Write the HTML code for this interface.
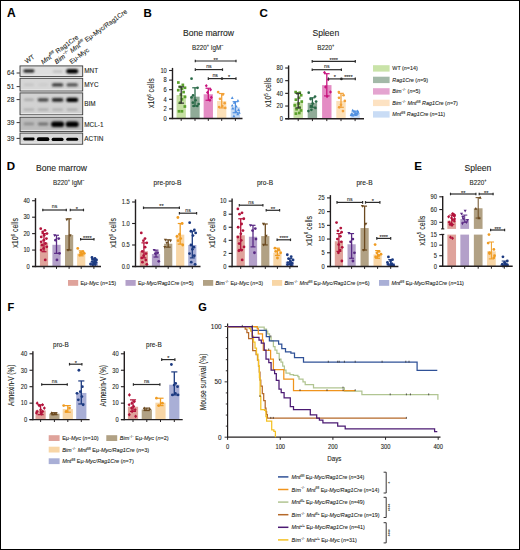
<!DOCTYPE html>
<html><head><meta charset="utf-8"><style>
html,body{margin:0;padding:0;background:#fff;}
body{width:520px;height:550px;overflow:hidden;font-family:"Liberation Sans",sans-serif;}
svg{display:block;}
text{stroke:#231f20;stroke-width:0.1px;paint-order:stroke;}
</style></head><body>
<svg width="520" height="550" viewBox="0 0 520 550" font-family="Liberation Sans, sans-serif"><rect x="0.5" y="0.5" width="519" height="549" fill="#fff" stroke="#000" stroke-width="1"/>
<text x="7.10" y="17.20" font-size="12" text-anchor="start" font-weight="bold" font-style="normal" fill="#000">A</text>
<text x="26.8" y="63.8" font-size="6.6" fill="#231f20" transform="rotate(-36 26.8 63.8)">WT</text>
<text x="43.0" y="64.4" font-size="6.6" fill="#231f20" transform="rotate(-36 43.0 64.4)"><tspan font-style="italic">Mnt<tspan baseline-shift="2.77" font-size="4.09">fl/fl</tspan></tspan> Rag1Cre</text>
<text x="56.6" y="64.2" font-size="6.6" fill="#231f20" transform="rotate(-36 56.6 64.2)"><tspan font-style="italic">Bim</tspan><tspan baseline-shift="2.77" font-size="4.09">−/−</tspan> <tspan font-style="italic">Mnt<tspan baseline-shift="2.77" font-size="4.09">fl/fl</tspan></tspan> Eμ-Myc/Rag1Cre</text>
<text x="71.4" y="64.2" font-size="6.6" fill="#231f20" transform="rotate(-36 71.4 64.2)">Eμ-Myc</text>
<defs>
<filter id="bl" x="-50%" y="-100%" width="200%" height="300%"><feGaussianBlur stdDeviation="0.85"/></filter>
<filter id="bl2" x="-50%" y="-100%" width="200%" height="300%"><feGaussianBlur stdDeviation="0.55"/></filter>
</defs>
<rect x="20.00" y="65.90" width="62.70" height="10.50" fill="#dedede" stroke="#3a3a3a" stroke-width="0.9"/>
<line x1="21.00" y1="75.20" x2="81.70" y2="75.20" stroke="#eeeeee" stroke-width="0.8"/>
<text x="84.30" y="73.45" font-size="6.4" text-anchor="start" font-weight="normal" font-style="normal" fill="#231f20">MNT</text>
<text x="14.30" y="75.30" font-size="6.5" text-anchor="end" font-weight="normal" font-style="normal" fill="#231f20">64</text>
<line x1="16.60" y1="73.00" x2="19.80" y2="73.00" stroke="#231f20" stroke-width="0.9"/>
<rect x="20.00" y="78.30" width="62.70" height="12.70" fill="#d6d6d6" stroke="#3a3a3a" stroke-width="0.9"/>
<line x1="21.00" y1="89.80" x2="81.70" y2="89.80" stroke="#eeeeee" stroke-width="0.8"/>
<text x="84.30" y="86.95" font-size="6.4" text-anchor="start" font-weight="normal" font-style="normal" fill="#231f20">MYC</text>
<text x="14.30" y="88.90" font-size="6.5" text-anchor="end" font-weight="normal" font-style="normal" fill="#231f20">51</text>
<line x1="16.60" y1="86.60" x2="19.80" y2="86.60" stroke="#231f20" stroke-width="0.9"/>
<rect x="20.00" y="92.90" width="62.70" height="21.90" fill="#d2d2d2" stroke="#3a3a3a" stroke-width="0.9"/>
<line x1="21.00" y1="113.60" x2="81.70" y2="113.60" stroke="#eeeeee" stroke-width="0.8"/>
<text x="84.30" y="106.15" font-size="6.4" text-anchor="start" font-weight="normal" font-style="normal" fill="#231f20">BIM</text>
<text x="14.30" y="101.90" font-size="6.5" text-anchor="end" font-weight="normal" font-style="normal" fill="#231f20">28</text>
<line x1="16.60" y1="99.60" x2="19.80" y2="99.60" stroke="#231f20" stroke-width="0.9"/>
<rect x="20.00" y="117.20" width="62.70" height="14.40" fill="#bdbdbd" stroke="#3a3a3a" stroke-width="0.9"/>
<line x1="21.00" y1="130.40" x2="81.70" y2="130.40" stroke="#eeeeee" stroke-width="0.8"/>
<text x="84.30" y="126.70" font-size="6.4" text-anchor="start" font-weight="normal" font-style="normal" fill="#231f20">MCL-1</text>
<text x="14.30" y="124.90" font-size="6.5" text-anchor="end" font-weight="normal" font-style="normal" fill="#231f20">39</text>
<line x1="16.60" y1="122.60" x2="19.80" y2="122.60" stroke="#231f20" stroke-width="0.9"/>
<rect x="20.00" y="133.10" width="62.70" height="11.10" fill="#d8d8d8" stroke="#3a3a3a" stroke-width="0.9"/>
<line x1="21.00" y1="143.00" x2="81.70" y2="143.00" stroke="#eeeeee" stroke-width="0.8"/>
<text x="84.30" y="140.95" font-size="6.4" text-anchor="start" font-weight="normal" font-style="normal" fill="#231f20">ACTIN</text>
<text x="14.30" y="140.70" font-size="6.5" text-anchor="end" font-weight="normal" font-style="normal" fill="#231f20">39</text>
<line x1="16.60" y1="138.40" x2="19.80" y2="138.40" stroke="#231f20" stroke-width="0.9"/>
<rect x="23.40" y="69.60" width="11.00" height="2.80" rx="1.40" fill="#000" fill-opacity="0.9" filter="url(#bl)"/>
<rect x="52.85" y="70.60" width="9.50" height="2.00" rx="1.00" fill="#9a9a9a" fill-opacity="0.55" filter="url(#bl)"/>
<rect x="66.20" y="69.00" width="12.00" height="4.60" rx="2.30" fill="#000" fill-opacity="1.0" filter="url(#bl)"/>
<rect x="23.90" y="83.50" width="10.00" height="2.60" rx="1.30" fill="#b4b4b4" fill-opacity="0.5" filter="url(#bl)"/>
<rect x="38.10" y="83.50" width="10.00" height="2.60" rx="1.30" fill="#bcbcbc" fill-opacity="0.4" filter="url(#bl)"/>
<rect x="51.85" y="83.20" width="11.50" height="3.40" rx="1.70" fill="#2a2a2a" fill-opacity="0.9" filter="url(#bl)"/>
<rect x="66.45" y="83.20" width="11.50" height="3.40" rx="1.70" fill="#3a3a3a" fill-opacity="0.85" filter="url(#bl)"/>
<rect x="23.90" y="98.50" width="10.00" height="2.40" rx="1.20" fill="#8a8a8a" fill-opacity="0.55" filter="url(#bl)"/>
<rect x="37.60" y="98.20" width="11.00" height="3.20" rx="1.60" fill="#303030" fill-opacity="0.9" filter="url(#bl)"/>
<rect x="51.85" y="98.10" width="11.50" height="3.60" rx="1.80" fill="#1a1a1a" fill-opacity="0.95" filter="url(#bl)"/>
<rect x="66.20" y="97.80" width="12.00" height="4.20" rx="2.10" fill="#000" fill-opacity="1.0" filter="url(#bl)"/>
<rect x="23.40" y="108.60" width="11.00" height="2.20" rx="1.10" fill="#8e8e8e" fill-opacity="0.5" filter="url(#bl)"/>
<rect x="37.60" y="108.60" width="11.00" height="2.20" rx="1.10" fill="#858585" fill-opacity="0.5" filter="url(#bl)"/>
<rect x="52.10" y="108.60" width="11.00" height="2.20" rx="1.10" fill="#8e8e8e" fill-opacity="0.5" filter="url(#bl)"/>
<rect x="66.70" y="108.60" width="11.00" height="2.20" rx="1.10" fill="#808080" fill-opacity="0.5" filter="url(#bl)"/>
<rect x="23.65" y="122.60" width="10.50" height="2.60" rx="1.30" fill="#707070" fill-opacity="0.6" filter="url(#bl)"/>
<rect x="37.85" y="122.60" width="10.50" height="2.80" rx="1.40" fill="#505050" fill-opacity="0.7" filter="url(#bl)"/>
<rect x="51.10" y="121.40" width="13.00" height="5.60" rx="2.80" fill="#000" fill-opacity="1.0" filter="url(#bl)"/>
<rect x="65.70" y="121.40" width="13.00" height="5.60" rx="2.80" fill="#000" fill-opacity="1.0" filter="url(#bl)"/>
<rect x="23.15" y="137.60" width="11.50" height="2.80" rx="1.40" fill="#000" fill-opacity="1.0" filter="url(#bl2)"/>
<rect x="36.85" y="137.30" width="12.50" height="3.80" rx="1.90" fill="#000" fill-opacity="1.0" filter="url(#bl2)"/>
<rect x="51.60" y="137.85" width="12.00" height="3.10" rx="1.55" fill="#000" fill-opacity="1.0" filter="url(#bl2)"/>
<rect x="66.20" y="137.65" width="12.00" height="3.10" rx="1.55" fill="#000" fill-opacity="1.0" filter="url(#bl2)"/>
<text x="143.40" y="17.20" font-size="11.5" text-anchor="start" font-weight="bold" font-style="normal" fill="#000">B</text>
<text x="208.50" y="36.40" font-size="8.6" text-anchor="middle" font-weight="normal" font-style="normal" fill="#231f20">Bone marrow</text>
<text x="0.00" y="0.00" font-size="7.4" text-anchor="middle" font-weight="normal" font-style="normal" fill="#231f20" transform="translate(207.80 50.20) scale(0.85 1)">B220<tspan baseline-shift="3.11" font-size="4.59">+</tspan> IgM<tspan baseline-shift="3.11" font-size="4.59">−</tspan></text>
<rect x="176.55" y="94.98" width="9.30" height="23.52" fill="#c6dfa4" fill-opacity="1"/>
<rect x="190.35" y="96.66" width="9.30" height="21.84" fill="#90ab98" fill-opacity="1"/>
<rect x="203.65" y="94.26" width="9.30" height="24.24" fill="#e48cc4" fill-opacity="1"/>
<rect x="217.05" y="100.98" width="9.30" height="17.52" fill="#fce0b8" fill-opacity="1"/>
<rect x="230.75" y="107.32" width="9.30" height="11.18" fill="#c6daf4" fill-opacity="1"/>
<rect x="177.00" y="81.15" width="2.70" height="2.70" fill="#5aa02c"/>
<rect x="181.48" y="83.55" width="2.70" height="2.70" fill="#5aa02c"/>
<rect x="178.56" y="85.47" width="2.70" height="2.70" fill="#5aa02c"/>
<rect x="183.64" y="86.43" width="2.70" height="2.70" fill="#5aa02c"/>
<rect x="180.65" y="87.39" width="2.70" height="2.70" fill="#5aa02c"/>
<rect x="176.91" y="88.83" width="2.70" height="2.70" fill="#5aa02c"/>
<rect x="182.23" y="90.75" width="2.70" height="2.70" fill="#5aa02c"/>
<rect x="179.53" y="93.15" width="2.70" height="2.70" fill="#5aa02c"/>
<rect x="183.69" y="95.55" width="2.70" height="2.70" fill="#5aa02c"/>
<rect x="180.59" y="97.95" width="2.70" height="2.70" fill="#5aa02c"/>
<rect x="178.82" y="101.31" width="2.70" height="2.70" fill="#5aa02c"/>
<rect x="183.52" y="105.15" width="2.70" height="2.70" fill="#5aa02c"/>
<rect x="180.59" y="109.95" width="2.70" height="2.70" fill="#5aa02c"/>
<rect x="177.67" y="109.95" width="2.70" height="2.70" fill="#5aa02c"/>
<line x1="181.20" y1="86.82" x2="181.20" y2="103.14" stroke="#333" stroke-width="1.3"/>
<line x1="178.41" y1="86.82" x2="183.99" y2="86.82" stroke="#333" stroke-width="1.2"/>
<line x1="178.41" y1="103.14" x2="183.99" y2="103.14" stroke="#333" stroke-width="1.2"/>
<circle cx="191.53" cy="78.66" r="1.35" fill="#2a6a48"/>
<circle cx="197.56" cy="87.78" r="1.35" fill="#2a6a48"/>
<circle cx="193.04" cy="95.46" r="1.35" fill="#2a6a48"/>
<circle cx="191.52" cy="97.38" r="1.35" fill="#2a6a48"/>
<circle cx="195.64" cy="100.26" r="1.35" fill="#2a6a48"/>
<circle cx="192.89" cy="102.66" r="1.35" fill="#2a6a48"/>
<circle cx="197.27" cy="106.02" r="1.35" fill="#2a6a48"/>
<circle cx="193.86" cy="106.02" r="1.35" fill="#2a6a48"/>
<circle cx="198.59" cy="104.10" r="1.35" fill="#2a6a48"/>
<line x1="195.00" y1="87.78" x2="195.00" y2="106.02" stroke="#2a6a48" stroke-width="1.3"/>
<line x1="192.21" y1="87.78" x2="197.79" y2="87.78" stroke="#2a6a48" stroke-width="1.2"/>
<line x1="192.21" y1="106.02" x2="197.79" y2="106.02" stroke="#2a6a48" stroke-width="1.2"/>
<path d="M206.31 84.11L207.79 85.86L206.31 87.61L204.82 85.86Z" fill="#c8147e"/>
<path d="M210.58 87.95L212.06 89.70L210.58 91.45L209.09 89.70Z" fill="#c8147e"/>
<path d="M207.45 90.83L208.93 92.58L207.45 94.33L205.96 92.58Z" fill="#c8147e"/>
<path d="M211.33 95.62L212.82 97.38L211.33 99.13L209.85 97.38Z" fill="#c8147e"/>
<path d="M209.94 98.51L211.43 100.26L209.94 102.02L208.46 100.26Z" fill="#c8147e"/>
<line x1="208.30" y1="88.26" x2="208.30" y2="100.26" stroke="#c8147e" stroke-width="1.3"/>
<line x1="205.51" y1="88.26" x2="211.09" y2="88.26" stroke="#c8147e" stroke-width="1.2"/>
<line x1="205.51" y1="100.26" x2="211.09" y2="100.26" stroke="#c8147e" stroke-width="1.2"/>
<circle cx="218.10" cy="92.10" r="1.35" fill="#f2a23a"/>
<circle cx="222.86" cy="94.50" r="1.35" fill="#f2a23a"/>
<circle cx="219.98" cy="98.82" r="1.35" fill="#f2a23a"/>
<circle cx="224.67" cy="103.14" r="1.35" fill="#f2a23a"/>
<circle cx="222.30" cy="106.02" r="1.35" fill="#f2a23a"/>
<circle cx="219.15" cy="106.98" r="1.35" fill="#f2a23a"/>
<circle cx="225.24" cy="107.94" r="1.35" fill="#f2a23a"/>
<line x1="221.70" y1="93.54" x2="221.70" y2="107.94" stroke="#f2a23a" stroke-width="1.3"/>
<line x1="218.91" y1="93.54" x2="224.49" y2="93.54" stroke="#f2a23a" stroke-width="1.2"/>
<line x1="218.91" y1="107.94" x2="224.49" y2="107.94" stroke="#f2a23a" stroke-width="1.2"/>
<path d="M232.23 96.24L233.72 98.94L230.75 98.94Z" fill="#4f8fe0"/>
<path d="M237.91 99.12L239.40 101.82L236.43 101.82Z" fill="#4f8fe0"/>
<path d="M234.35 101.04L235.83 103.74L232.86 103.74Z" fill="#4f8fe0"/>
<path d="M232.25 103.92L233.73 106.62L230.76 106.62Z" fill="#4f8fe0"/>
<path d="M236.30 104.88L237.79 107.58L234.82 107.58Z" fill="#4f8fe0"/>
<path d="M232.88 106.80L234.36 109.50L231.39 109.50Z" fill="#4f8fe0"/>
<path d="M238.60 108.24L240.08 110.94L237.11 110.94Z" fill="#4f8fe0"/>
<path d="M235.92 109.68L237.41 112.38L234.44 112.38Z" fill="#4f8fe0"/>
<path d="M239.25 111.12L240.74 113.82L237.77 113.82Z" fill="#4f8fe0"/>
<path d="M237.74 112.56L239.23 115.26L236.26 115.26Z" fill="#4f8fe0"/>
<path d="M233.90 114.48L235.39 117.18L232.42 117.18Z" fill="#4f8fe0"/>
<line x1="235.40" y1="101.70" x2="235.40" y2="112.74" stroke="#4f8fe0" stroke-width="1.3"/>
<line x1="232.61" y1="101.70" x2="238.19" y2="101.70" stroke="#4f8fe0" stroke-width="1.2"/>
<line x1="232.61" y1="112.74" x2="238.19" y2="112.74" stroke="#4f8fe0" stroke-width="1.2"/>
<line x1="172.50" y1="67.90" x2="172.50" y2="119.20" stroke="#231f20" stroke-width="1.4"/>
<line x1="169.10" y1="118.50" x2="242.50" y2="118.50" stroke="#231f20" stroke-width="1.4"/>
<line x1="169.10" y1="118.50" x2="172.50" y2="118.50" stroke="#231f20" stroke-width="1.1"/>
<text x="0.00" y="0.00" font-size="6.4" text-anchor="end" font-weight="normal" font-style="normal" fill="#231f20" transform="translate(166.80 120.80) scale(0.9 1)">0</text>
<line x1="169.10" y1="108.90" x2="172.50" y2="108.90" stroke="#231f20" stroke-width="1.1"/>
<text x="0.00" y="0.00" font-size="6.4" text-anchor="end" font-weight="normal" font-style="normal" fill="#231f20" transform="translate(166.80 111.20) scale(0.9 1)">2</text>
<line x1="169.10" y1="99.30" x2="172.50" y2="99.30" stroke="#231f20" stroke-width="1.1"/>
<text x="0.00" y="0.00" font-size="6.4" text-anchor="end" font-weight="normal" font-style="normal" fill="#231f20" transform="translate(166.80 101.60) scale(0.9 1)">4</text>
<line x1="169.10" y1="89.70" x2="172.50" y2="89.70" stroke="#231f20" stroke-width="1.1"/>
<text x="0.00" y="0.00" font-size="6.4" text-anchor="end" font-weight="normal" font-style="normal" fill="#231f20" transform="translate(166.80 92.00) scale(0.9 1)">6</text>
<line x1="169.10" y1="80.10" x2="172.50" y2="80.10" stroke="#231f20" stroke-width="1.1"/>
<text x="0.00" y="0.00" font-size="6.4" text-anchor="end" font-weight="normal" font-style="normal" fill="#231f20" transform="translate(166.80 82.40) scale(0.9 1)">8</text>
<line x1="169.10" y1="70.50" x2="172.50" y2="70.50" stroke="#231f20" stroke-width="1.1"/>
<text x="0.00" y="0.00" font-size="6.4" text-anchor="end" font-weight="normal" font-style="normal" fill="#231f20" transform="translate(166.80 72.80) scale(0.9 1)">10</text>
<line x1="181.20" y1="118.50" x2="181.20" y2="120.90" stroke="#231f20" stroke-width="1.0"/>
<line x1="195.00" y1="118.50" x2="195.00" y2="120.90" stroke="#231f20" stroke-width="1.0"/>
<line x1="208.30" y1="118.50" x2="208.30" y2="120.90" stroke="#231f20" stroke-width="1.0"/>
<line x1="221.70" y1="118.50" x2="221.70" y2="120.90" stroke="#231f20" stroke-width="1.0"/>
<line x1="235.40" y1="118.50" x2="235.40" y2="120.90" stroke="#231f20" stroke-width="1.0"/>
<text transform="translate(154.10 93.20) rotate(-90) scale(0.78 1)" font-size="9.0" text-anchor="middle" fill="#231f20">x10<tspan baseline-shift="3.78" font-size="5.58">6</tspan> cells</text>
<line x1="195.30" y1="61.00" x2="236.00" y2="61.00" stroke="#2b2b2b" stroke-width="1.2"/>
<line x1="195.30" y1="59.70" x2="195.30" y2="62.30" stroke="#2b2b2b" stroke-width="1.2"/>
<line x1="236.00" y1="59.70" x2="236.00" y2="62.30" stroke="#2b2b2b" stroke-width="1.2"/>
<text x="215.65" y="61.50" font-size="5.4" text-anchor="middle" font-weight="normal" font-style="normal" fill="#2b2b2b">**</text>
<line x1="195.30" y1="69.60" x2="222.50" y2="69.60" stroke="#2b2b2b" stroke-width="1.2"/>
<line x1="195.30" y1="68.30" x2="195.30" y2="70.90" stroke="#2b2b2b" stroke-width="1.2"/>
<line x1="222.50" y1="68.30" x2="222.50" y2="70.90" stroke="#2b2b2b" stroke-width="1.2"/>
<text x="208.90" y="67.90" font-size="5.2" text-anchor="middle" font-weight="normal" font-style="normal" fill="#2b2b2b">ns</text>
<line x1="208.30" y1="78.60" x2="236.00" y2="78.60" stroke="#2b2b2b" stroke-width="1.2"/>
<line x1="208.30" y1="77.30" x2="208.30" y2="79.90" stroke="#2b2b2b" stroke-width="1.2"/>
<line x1="236.00" y1="77.30" x2="236.00" y2="79.90" stroke="#2b2b2b" stroke-width="1.2"/>
<circle cx="222.00" cy="78.60" r="1.3" fill="#2b2b2b"/>
<text x="215.15" y="76.90" font-size="5.2" text-anchor="middle" font-weight="normal" font-style="normal" fill="#2b2b2b">ns</text>
<text x="229.00" y="79.10" font-size="5.4" text-anchor="middle" font-weight="normal" font-style="normal" fill="#2b2b2b">*</text>
<text x="259.60" y="17.20" font-size="11.5" text-anchor="start" font-weight="bold" font-style="normal" fill="#000">C</text>
<text x="325.80" y="36.40" font-size="8.6" text-anchor="middle" font-weight="normal" font-style="normal" fill="#231f20">Spleen</text>
<text x="0.00" y="0.00" font-size="7.4" text-anchor="middle" font-weight="normal" font-style="normal" fill="#231f20" transform="translate(325.80 50.00) scale(0.85 1)">B220<tspan baseline-shift="3.11" font-size="4.59">+</tspan></text>
<rect x="293.50" y="102.54" width="9.40" height="16.16" fill="#c6dfa4" fill-opacity="1"/>
<rect x="307.70" y="102.86" width="9.40" height="15.84" fill="#90ab98" fill-opacity="1"/>
<rect x="322.10" y="85.11" width="9.40" height="33.59" fill="#e48cc4" fill-opacity="1"/>
<rect x="336.30" y="100.95" width="9.40" height="17.75" fill="#fce0b8" fill-opacity="1"/>
<rect x="350.40" y="113.00" width="9.40" height="5.70" fill="#c6daf4" fill-opacity="1"/>
<rect x="294.31" y="90.73" width="2.70" height="2.70" fill="#5aa02c"/>
<rect x="298.42" y="91.37" width="2.70" height="2.70" fill="#5aa02c"/>
<rect x="296.19" y="92.00" width="2.70" height="2.70" fill="#5aa02c"/>
<rect x="299.85" y="93.90" width="2.70" height="2.70" fill="#5aa02c"/>
<rect x="297.71" y="96.44" width="2.70" height="2.70" fill="#5aa02c"/>
<rect x="294.53" y="98.34" width="2.70" height="2.70" fill="#5aa02c"/>
<rect x="300.39" y="100.24" width="2.70" height="2.70" fill="#5aa02c"/>
<rect x="297.33" y="102.14" width="2.70" height="2.70" fill="#5aa02c"/>
<rect x="293.45" y="104.04" width="2.70" height="2.70" fill="#5aa02c"/>
<rect x="298.04" y="105.94" width="2.70" height="2.70" fill="#5aa02c"/>
<rect x="295.22" y="107.84" width="2.70" height="2.70" fill="#5aa02c"/>
<rect x="299.65" y="109.11" width="2.70" height="2.70" fill="#5aa02c"/>
<rect x="297.94" y="111.65" width="2.70" height="2.70" fill="#5aa02c"/>
<rect x="294.58" y="112.28" width="2.70" height="2.70" fill="#5aa02c"/>
<line x1="298.20" y1="93.35" x2="298.20" y2="107.93" stroke="#333" stroke-width="1.3"/>
<line x1="295.38" y1="93.35" x2="301.02" y2="93.35" stroke="#333" stroke-width="1.2"/>
<line x1="295.38" y1="107.93" x2="301.02" y2="107.93" stroke="#333" stroke-width="1.2"/>
<circle cx="308.74" cy="92.72" r="1.35" fill="#2a6a48"/>
<circle cx="315.06" cy="96.52" r="1.35" fill="#2a6a48"/>
<circle cx="310.57" cy="99.05" r="1.35" fill="#2a6a48"/>
<circle cx="316.12" cy="101.59" r="1.35" fill="#2a6a48"/>
<circle cx="312.77" cy="103.49" r="1.35" fill="#2a6a48"/>
<circle cx="310.87" cy="106.03" r="1.35" fill="#2a6a48"/>
<circle cx="315.37" cy="107.93" r="1.35" fill="#2a6a48"/>
<circle cx="311.38" cy="109.83" r="1.35" fill="#2a6a48"/>
<circle cx="308.43" cy="111.09" r="1.35" fill="#2a6a48"/>
<line x1="312.40" y1="97.79" x2="312.40" y2="107.29" stroke="#2a6a48" stroke-width="1.3"/>
<line x1="309.58" y1="97.79" x2="315.22" y2="97.79" stroke="#2a6a48" stroke-width="1.2"/>
<line x1="309.58" y1="107.29" x2="315.22" y2="107.29" stroke="#2a6a48" stroke-width="1.2"/>
<path d="M324.51 70.68L325.99 72.44L324.51 74.19L323.02 72.44Z" fill="#c8147e"/>
<path d="M328.25 77.65L329.73 79.41L328.25 81.16L326.76 79.41Z" fill="#c8147e"/>
<path d="M325.49 85.26L326.98 87.01L325.49 88.77L324.01 87.01Z" fill="#c8147e"/>
<path d="M330.48 90.33L331.97 92.08L330.48 93.84L329.00 92.08Z" fill="#c8147e"/>
<path d="M327.04 94.76L328.52 96.52L327.04 98.27L325.55 96.52Z" fill="#c8147e"/>
<line x1="326.80" y1="73.70" x2="326.80" y2="95.89" stroke="#c8147e" stroke-width="1.3"/>
<line x1="323.98" y1="73.70" x2="329.62" y2="73.70" stroke="#c8147e" stroke-width="1.2"/>
<line x1="323.98" y1="95.89" x2="329.62" y2="95.89" stroke="#c8147e" stroke-width="1.2"/>
<circle cx="338.83" cy="92.08" r="1.35" fill="#f2a23a"/>
<circle cx="343.53" cy="95.25" r="1.35" fill="#f2a23a"/>
<circle cx="339.00" cy="97.79" r="1.35" fill="#f2a23a"/>
<circle cx="344.81" cy="100.95" r="1.35" fill="#f2a23a"/>
<circle cx="340.98" cy="104.76" r="1.35" fill="#f2a23a"/>
<circle cx="339.22" cy="107.29" r="1.35" fill="#f2a23a"/>
<circle cx="342.95" cy="111.09" r="1.35" fill="#f2a23a"/>
<line x1="341.00" y1="93.35" x2="341.00" y2="107.29" stroke="#f2a23a" stroke-width="1.3"/>
<line x1="338.18" y1="93.35" x2="343.82" y2="93.35" stroke="#f2a23a" stroke-width="1.2"/>
<line x1="338.18" y1="107.29" x2="343.82" y2="107.29" stroke="#f2a23a" stroke-width="1.2"/>
<path d="M352.70 108.84L354.19 111.54L351.22 111.54Z" fill="#4f8fe0"/>
<path d="M357.67 109.47L359.15 112.17L356.18 112.17Z" fill="#4f8fe0"/>
<path d="M354.04 110.11L355.53 112.81L352.56 112.81Z" fill="#4f8fe0"/>
<path d="M358.09 110.74L359.57 113.44L356.60 113.44Z" fill="#4f8fe0"/>
<path d="M356.13 111.38L357.61 114.08L354.64 114.08Z" fill="#4f8fe0"/>
<path d="M351.95 112.01L353.43 114.71L350.46 114.71Z" fill="#4f8fe0"/>
<path d="M357.29 112.01L358.77 114.71L355.80 114.71Z" fill="#4f8fe0"/>
<path d="M354.98 112.64L356.46 115.34L353.49 115.34Z" fill="#4f8fe0"/>
<path d="M351.18 113.28L352.66 115.98L349.69 115.98Z" fill="#4f8fe0"/>
<path d="M355.68 113.28L357.16 115.98L354.19 115.98Z" fill="#4f8fe0"/>
<path d="M352.85 113.91L354.34 116.61L351.37 116.61Z" fill="#4f8fe0"/>
<line x1="355.10" y1="111.09" x2="355.10" y2="114.90" stroke="#4f8fe0" stroke-width="1.3"/>
<line x1="352.28" y1="111.09" x2="357.92" y2="111.09" stroke="#4f8fe0" stroke-width="1.2"/>
<line x1="352.28" y1="114.90" x2="357.92" y2="114.90" stroke="#4f8fe0" stroke-width="1.2"/>
<line x1="288.60" y1="65.40" x2="288.60" y2="119.40" stroke="#231f20" stroke-width="1.4"/>
<line x1="285.20" y1="118.70" x2="364.00" y2="118.70" stroke="#231f20" stroke-width="1.4"/>
<line x1="285.20" y1="118.70" x2="288.60" y2="118.70" stroke="#231f20" stroke-width="1.1"/>
<text x="0.00" y="0.00" font-size="6.4" text-anchor="end" font-weight="normal" font-style="normal" fill="#231f20" transform="translate(282.90 121.00) scale(0.9 1)">0</text>
<line x1="285.20" y1="106.03" x2="288.60" y2="106.03" stroke="#231f20" stroke-width="1.1"/>
<text x="0.00" y="0.00" font-size="6.4" text-anchor="end" font-weight="normal" font-style="normal" fill="#231f20" transform="translate(282.90 108.33) scale(0.9 1)">20</text>
<line x1="285.20" y1="93.35" x2="288.60" y2="93.35" stroke="#231f20" stroke-width="1.1"/>
<text x="0.00" y="0.00" font-size="6.4" text-anchor="end" font-weight="normal" font-style="normal" fill="#231f20" transform="translate(282.90 95.65) scale(0.9 1)">40</text>
<line x1="285.20" y1="80.67" x2="288.60" y2="80.67" stroke="#231f20" stroke-width="1.1"/>
<text x="0.00" y="0.00" font-size="6.4" text-anchor="end" font-weight="normal" font-style="normal" fill="#231f20" transform="translate(282.90 82.98) scale(0.9 1)">60</text>
<line x1="285.20" y1="68.00" x2="288.60" y2="68.00" stroke="#231f20" stroke-width="1.1"/>
<text x="0.00" y="0.00" font-size="6.4" text-anchor="end" font-weight="normal" font-style="normal" fill="#231f20" transform="translate(282.90 70.30) scale(0.9 1)">80</text>
<line x1="298.20" y1="118.70" x2="298.20" y2="121.10" stroke="#231f20" stroke-width="1.0"/>
<line x1="312.40" y1="118.70" x2="312.40" y2="121.10" stroke="#231f20" stroke-width="1.0"/>
<line x1="326.80" y1="118.70" x2="326.80" y2="121.10" stroke="#231f20" stroke-width="1.0"/>
<line x1="341.00" y1="118.70" x2="341.00" y2="121.10" stroke="#231f20" stroke-width="1.0"/>
<line x1="355.10" y1="118.70" x2="355.10" y2="121.10" stroke="#231f20" stroke-width="1.0"/>
<text transform="translate(271.20 92.30) rotate(-90) scale(0.78 1)" font-size="9.0" text-anchor="middle" fill="#231f20">x10<tspan baseline-shift="3.78" font-size="5.58">5</tspan> cells</text>
<line x1="312.20" y1="61.40" x2="355.30" y2="61.40" stroke="#2b2b2b" stroke-width="1.2"/>
<line x1="312.20" y1="60.10" x2="312.20" y2="62.70" stroke="#2b2b2b" stroke-width="1.2"/>
<line x1="355.30" y1="60.10" x2="355.30" y2="62.70" stroke="#2b2b2b" stroke-width="1.2"/>
<text x="333.75" y="61.90" font-size="5.4" text-anchor="middle" font-weight="normal" font-style="normal" fill="#2b2b2b">****</text>
<line x1="312.20" y1="69.70" x2="341.40" y2="69.70" stroke="#2b2b2b" stroke-width="1.2"/>
<line x1="312.20" y1="68.40" x2="312.20" y2="71.00" stroke="#2b2b2b" stroke-width="1.2"/>
<line x1="341.40" y1="68.40" x2="341.40" y2="71.00" stroke="#2b2b2b" stroke-width="1.2"/>
<text x="326.80" y="68.00" font-size="5.2" text-anchor="middle" font-weight="normal" font-style="normal" fill="#2b2b2b">ns</text>
<line x1="328.40" y1="78.90" x2="355.30" y2="78.90" stroke="#2b2b2b" stroke-width="1.2"/>
<line x1="328.40" y1="77.60" x2="328.40" y2="80.20" stroke="#2b2b2b" stroke-width="1.2"/>
<line x1="355.30" y1="77.60" x2="355.30" y2="80.20" stroke="#2b2b2b" stroke-width="1.2"/>
<circle cx="341.40" cy="78.90" r="1.3" fill="#2b2b2b"/>
<text x="334.90" y="79.40" font-size="5.4" text-anchor="middle" font-weight="normal" font-style="normal" fill="#2b2b2b">*</text>
<text x="348.35" y="79.40" font-size="5.4" text-anchor="middle" font-weight="normal" font-style="normal" fill="#2b2b2b">****</text>
<rect x="373.00" y="65.20" width="16.60" height="6.40" fill="#c9e3a8"/>
<text x="0.00" y="0.00" font-size="6.0" text-anchor="start" font-weight="normal" font-style="normal" fill="#231f20" transform="translate(392.30 70.40) scale(0.9 1)">WT (<tspan font-style="italic">n</tspan>=14)</text>
<rect x="373.00" y="76.70" width="16.60" height="6.40" fill="#a3b9a8"/>
<text x="0.00" y="0.00" font-size="6.0" text-anchor="start" font-weight="normal" font-style="normal" fill="#231f20" transform="translate(392.30 81.90) scale(0.9 1)"><tspan font-style="italic">Rag1Cre</tspan> (<tspan font-style="italic">n</tspan>=9)</text>
<rect x="373.00" y="88.20" width="16.60" height="6.40" fill="#e4a4d0"/>
<text x="0.00" y="0.00" font-size="6.0" text-anchor="start" font-weight="normal" font-style="normal" fill="#231f20" transform="translate(392.30 93.40) scale(0.9 1)"><tspan font-style="italic">Bim</tspan><tspan baseline-shift="2.35" font-size="3.47">−/−</tspan> (<tspan font-style="italic">n</tspan>=5)</text>
<rect x="373.00" y="99.70" width="16.60" height="6.40" fill="#fde2c2"/>
<text x="0.00" y="0.00" font-size="6.0" text-anchor="start" font-weight="normal" font-style="normal" fill="#231f20" transform="translate(392.30 104.90) scale(0.9 1)"><tspan font-style="italic">Bim</tspan><tspan baseline-shift="2.35" font-size="3.47">−/−</tspan> <tspan font-style="italic">Mnt</tspan><tspan baseline-shift="2.35" font-size="3.47">fl/fl</tspan> <tspan font-style="italic">Rag1Cre</tspan> (<tspan font-style="italic">n</tspan>=7)</text>
<rect x="373.00" y="111.20" width="16.60" height="6.40" fill="#c9dcf5"/>
<text x="0.00" y="0.00" font-size="6.0" text-anchor="start" font-weight="normal" font-style="normal" fill="#231f20" transform="translate(392.30 116.40) scale(0.9 1)"><tspan font-style="italic">Mnt</tspan><tspan baseline-shift="2.35" font-size="3.47">fl/fl</tspan> <tspan font-style="italic">Rag1Cre</tspan> (<tspan font-style="italic">n</tspan>=11)</text>
<text x="6.80" y="170.30" font-size="11.5" text-anchor="start" font-weight="bold" font-style="normal" fill="#000">D</text>
<text x="61.50" y="170.80" font-size="8.6" text-anchor="middle" font-weight="normal" font-style="normal" fill="#231f20">Bone marrow</text>
<text x="0.00" y="0.00" font-size="7.4" text-anchor="middle" font-weight="normal" font-style="normal" fill="#231f20" transform="translate(68.70 184.80) scale(0.85 1)">B220<tspan baseline-shift="3.11" font-size="4.59">+</tspan> IgM<tspan baseline-shift="3.11" font-size="4.59">−</tspan></text>
<rect x="39.90" y="242.67" width="8.20" height="23.83" fill="#dfa39b" fill-opacity="1"/>
<rect x="52.40" y="244.80" width="8.20" height="21.70" fill="#b3a0c9" fill-opacity="1"/>
<rect x="65.00" y="234.94" width="8.20" height="31.56" fill="#b1a184" fill-opacity="1"/>
<rect x="77.10" y="253.68" width="8.20" height="12.82" fill="#f8d6a6" fill-opacity="1"/>
<rect x="89.80" y="261.73" width="8.20" height="4.77" fill="#a9afd6" fill-opacity="1"/>
<circle cx="40.73" cy="228.69" r="1.4" fill="#b3143c"/>
<circle cx="44.97" cy="230.34" r="1.4" fill="#b3143c"/>
<circle cx="42.69" cy="231.98" r="1.4" fill="#b3143c"/>
<circle cx="46.98" cy="233.62" r="1.4" fill="#b3143c"/>
<circle cx="44.17" cy="235.27" r="1.4" fill="#b3143c"/>
<circle cx="41.25" cy="236.91" r="1.4" fill="#b3143c"/>
<circle cx="46.41" cy="238.56" r="1.4" fill="#b3143c"/>
<circle cx="43.78" cy="240.20" r="1.4" fill="#b3143c"/>
<circle cx="41.18" cy="241.84" r="1.4" fill="#b3143c"/>
<circle cx="45.55" cy="243.49" r="1.4" fill="#b3143c"/>
<circle cx="42.18" cy="245.13" r="1.4" fill="#b3143c"/>
<circle cx="46.77" cy="246.78" r="1.4" fill="#b3143c"/>
<circle cx="43.56" cy="248.42" r="1.4" fill="#b3143c"/>
<circle cx="41.18" cy="250.06" r="1.4" fill="#b3143c"/>
<circle cx="45.24" cy="259.93" r="1.4" fill="#b3143c"/>
<line x1="44.00" y1="233.62" x2="44.00" y2="251.71" stroke="#b3143c" stroke-width="1.3"/>
<line x1="41.54" y1="233.62" x2="46.46" y2="233.62" stroke="#b3143c" stroke-width="1.2"/>
<line x1="41.54" y1="251.71" x2="46.46" y2="251.71" stroke="#b3143c" stroke-width="1.2"/>
<path d="M54.65 236.95L56.19 234.15L53.11 234.15Z" fill="#5a2a84"/>
<circle cx="58.72" cy="238.56" r="1.4" fill="#5a2a84"/>
<circle cx="55.48" cy="240.20" r="1.4" fill="#5a2a84"/>
<circle cx="59.53" cy="253.35" r="1.4" fill="#5a2a84"/>
<circle cx="56.96" cy="259.93" r="1.4" fill="#5a2a84"/>
<line x1="56.50" y1="235.27" x2="56.50" y2="253.35" stroke="#5a2a84" stroke-width="1.3"/>
<line x1="54.04" y1="235.27" x2="58.96" y2="235.27" stroke="#5a2a84" stroke-width="1.2"/>
<line x1="54.04" y1="253.35" x2="58.96" y2="253.35" stroke="#5a2a84" stroke-width="1.2"/>
<path d="M66.82 221.33L68.36 218.53L65.28 218.53Z" fill="#6b4a20"/>
<path d="M70.15 236.95L71.69 234.15L68.61 234.15Z" fill="#6b4a20"/>
<path d="M68.03 251.74L69.57 248.94L66.49 248.94Z" fill="#6b4a20"/>
<line x1="69.10" y1="218.83" x2="69.10" y2="250.06" stroke="#6b4a20" stroke-width="1.3"/>
<line x1="66.64" y1="218.83" x2="71.56" y2="218.83" stroke="#6b4a20" stroke-width="1.2"/>
<line x1="66.64" y1="250.06" x2="71.56" y2="250.06" stroke="#6b4a20" stroke-width="1.2"/>
<circle cx="77.77" cy="248.42" r="1.4" fill="#f09c22"/>
<circle cx="83.09" cy="251.71" r="1.4" fill="#f09c22"/>
<circle cx="80.61" cy="252.53" r="1.4" fill="#f09c22"/>
<circle cx="84.28" cy="253.35" r="1.4" fill="#f09c22"/>
<circle cx="82.13" cy="254.17" r="1.4" fill="#f09c22"/>
<circle cx="79.77" cy="254.99" r="1.4" fill="#f09c22"/>
<line x1="81.20" y1="250.88" x2="81.20" y2="255.82" stroke="#f09c22" stroke-width="1.3"/>
<line x1="78.74" y1="250.88" x2="83.66" y2="250.88" stroke="#f09c22" stroke-width="1.2"/>
<line x1="78.74" y1="255.82" x2="83.66" y2="255.82" stroke="#f09c22" stroke-width="1.2"/>
<circle cx="92.01" cy="257.46" r="1.4" fill="#1c3a80"/>
<circle cx="94.97" cy="258.28" r="1.4" fill="#1c3a80"/>
<circle cx="92.47" cy="259.10" r="1.4" fill="#1c3a80"/>
<circle cx="96.54" cy="259.93" r="1.4" fill="#1c3a80"/>
<circle cx="94.86" cy="260.75" r="1.4" fill="#1c3a80"/>
<circle cx="92.24" cy="261.57" r="1.4" fill="#1c3a80"/>
<circle cx="95.94" cy="262.39" r="1.4" fill="#1c3a80"/>
<circle cx="94.02" cy="263.21" r="1.4" fill="#1c3a80"/>
<circle cx="90.51" cy="264.03" r="1.4" fill="#1c3a80"/>
<circle cx="95.21" cy="264.53" r="1.4" fill="#1c3a80"/>
<circle cx="92.77" cy="264.86" r="1.4" fill="#1c3a80"/>
<line x1="93.90" y1="259.10" x2="93.90" y2="264.03" stroke="#1c3a80" stroke-width="1.3"/>
<line x1="91.44" y1="259.10" x2="96.36" y2="259.10" stroke="#1c3a80" stroke-width="1.2"/>
<line x1="91.44" y1="264.03" x2="96.36" y2="264.03" stroke="#1c3a80" stroke-width="1.2"/>
<line x1="35.50" y1="198.15" x2="35.50" y2="267.20" stroke="#231f20" stroke-width="1.4"/>
<line x1="32.10" y1="266.50" x2="101.00" y2="266.50" stroke="#231f20" stroke-width="1.4"/>
<line x1="32.10" y1="266.50" x2="35.50" y2="266.50" stroke="#231f20" stroke-width="1.1"/>
<text x="0.00" y="0.00" font-size="6.4" text-anchor="end" font-weight="normal" font-style="normal" fill="#231f20" transform="translate(29.80 268.80) scale(0.9 1)">0</text>
<line x1="32.10" y1="250.06" x2="35.50" y2="250.06" stroke="#231f20" stroke-width="1.1"/>
<text x="0.00" y="0.00" font-size="6.4" text-anchor="end" font-weight="normal" font-style="normal" fill="#231f20" transform="translate(29.80 252.37) scale(0.9 1)">10</text>
<line x1="32.10" y1="233.62" x2="35.50" y2="233.62" stroke="#231f20" stroke-width="1.1"/>
<text x="0.00" y="0.00" font-size="6.4" text-anchor="end" font-weight="normal" font-style="normal" fill="#231f20" transform="translate(29.80 235.93) scale(0.9 1)">20</text>
<line x1="32.10" y1="217.19" x2="35.50" y2="217.19" stroke="#231f20" stroke-width="1.1"/>
<text x="0.00" y="0.00" font-size="6.4" text-anchor="end" font-weight="normal" font-style="normal" fill="#231f20" transform="translate(29.80 219.49) scale(0.9 1)">30</text>
<line x1="32.10" y1="200.75" x2="35.50" y2="200.75" stroke="#231f20" stroke-width="1.1"/>
<text x="0.00" y="0.00" font-size="6.4" text-anchor="end" font-weight="normal" font-style="normal" fill="#231f20" transform="translate(29.80 203.05) scale(0.9 1)">40</text>
<line x1="44.00" y1="266.50" x2="44.00" y2="268.90" stroke="#231f20" stroke-width="1.0"/>
<line x1="56.50" y1="266.50" x2="56.50" y2="268.90" stroke="#231f20" stroke-width="1.0"/>
<line x1="69.10" y1="266.50" x2="69.10" y2="268.90" stroke="#231f20" stroke-width="1.0"/>
<line x1="81.20" y1="266.50" x2="81.20" y2="268.90" stroke="#231f20" stroke-width="1.0"/>
<line x1="93.90" y1="266.50" x2="93.90" y2="268.90" stroke="#231f20" stroke-width="1.0"/>
<text transform="translate(18.40 232.90) rotate(-90) scale(0.78 1)" font-size="9.0" text-anchor="middle" fill="#231f20">x10<tspan baseline-shift="3.78" font-size="5.58">6</tspan> cells</text>
<line x1="42.80" y1="210.00" x2="66.30" y2="210.00" stroke="#2b2b2b" stroke-width="1.2"/>
<line x1="42.80" y1="208.70" x2="42.80" y2="211.30" stroke="#2b2b2b" stroke-width="1.2"/>
<line x1="66.30" y1="208.70" x2="66.30" y2="211.30" stroke="#2b2b2b" stroke-width="1.2"/>
<text x="54.55" y="208.30" font-size="5.2" text-anchor="middle" font-weight="normal" font-style="normal" fill="#2b2b2b">ns</text>
<line x1="70.30" y1="210.00" x2="83.50" y2="210.00" stroke="#2b2b2b" stroke-width="1.2"/>
<line x1="70.30" y1="208.70" x2="70.30" y2="211.30" stroke="#2b2b2b" stroke-width="1.2"/>
<line x1="83.50" y1="208.70" x2="83.50" y2="211.30" stroke="#2b2b2b" stroke-width="1.2"/>
<text x="76.90" y="210.50" font-size="5.4" text-anchor="middle" font-weight="normal" font-style="normal" fill="#2b2b2b">*</text>
<line x1="80.60" y1="239.30" x2="94.00" y2="239.30" stroke="#2b2b2b" stroke-width="1.2"/>
<line x1="80.60" y1="238.00" x2="80.60" y2="240.60" stroke="#2b2b2b" stroke-width="1.2"/>
<line x1="94.00" y1="238.00" x2="94.00" y2="240.60" stroke="#2b2b2b" stroke-width="1.2"/>
<text x="87.30" y="239.80" font-size="5.4" text-anchor="middle" font-weight="normal" font-style="normal" fill="#2b2b2b">****</text>
<text x="167.50" y="184.80" font-size="6.6" text-anchor="middle" font-weight="normal" font-style="normal" fill="#231f20">pre-pro-B</text>
<rect x="139.80" y="251.32" width="8.20" height="15.18" fill="#dfa39b" fill-opacity="1"/>
<rect x="151.90" y="254.03" width="8.20" height="12.47" fill="#b3a0c9" fill-opacity="1"/>
<rect x="164.10" y="243.71" width="8.20" height="22.79" fill="#b1a184" fill-opacity="1"/>
<rect x="176.10" y="234.68" width="8.20" height="31.82" fill="#f8d6a6" fill-opacity="1"/>
<rect x="188.20" y="245.00" width="8.20" height="21.50" fill="#a9afd6" fill-opacity="1"/>
<circle cx="141.29" cy="232.96" r="1.4" fill="#b3143c"/>
<circle cx="144.99" cy="238.55" r="1.4" fill="#b3143c"/>
<circle cx="143.43" cy="240.70" r="1.4" fill="#b3143c"/>
<circle cx="146.78" cy="242.85" r="1.4" fill="#b3143c"/>
<circle cx="145.10" cy="247.15" r="1.4" fill="#b3143c"/>
<circle cx="142.28" cy="251.45" r="1.4" fill="#b3143c"/>
<circle cx="145.95" cy="253.60" r="1.4" fill="#b3143c"/>
<circle cx="143.61" cy="255.75" r="1.4" fill="#b3143c"/>
<circle cx="141.74" cy="257.90" r="1.4" fill="#b3143c"/>
<circle cx="145.82" cy="260.05" r="1.4" fill="#b3143c"/>
<circle cx="142.44" cy="262.20" r="1.4" fill="#b3143c"/>
<circle cx="146.84" cy="264.35" r="1.4" fill="#b3143c"/>
<line x1="143.90" y1="242.85" x2="143.90" y2="257.90" stroke="#b3143c" stroke-width="1.3"/>
<line x1="141.44" y1="242.85" x2="146.36" y2="242.85" stroke="#b3143c" stroke-width="1.2"/>
<line x1="141.44" y1="257.90" x2="146.36" y2="257.90" stroke="#b3143c" stroke-width="1.2"/>
<path d="M154.15 251.84L155.69 249.04L152.61 249.04Z" fill="#5a2a84"/>
<circle cx="157.62" cy="252.74" r="1.4" fill="#5a2a84"/>
<circle cx="155.34" cy="253.60" r="1.4" fill="#5a2a84"/>
<circle cx="158.73" cy="261.34" r="1.4" fill="#5a2a84"/>
<line x1="156.00" y1="250.16" x2="156.00" y2="257.04" stroke="#5a2a84" stroke-width="1.3"/>
<line x1="153.54" y1="250.16" x2="158.46" y2="250.16" stroke="#5a2a84" stroke-width="1.2"/>
<line x1="153.54" y1="257.04" x2="158.46" y2="257.04" stroke="#5a2a84" stroke-width="1.2"/>
<path d="M165.34 241.52L166.88 238.72L163.80 238.72Z" fill="#6b4a20"/>
<path d="M170.57 242.38L172.11 239.58L169.03 239.58Z" fill="#6b4a20"/>
<path d="M166.85 244.53L168.39 241.73L165.31 241.73Z" fill="#6b4a20"/>
<path d="M164.80 248.83L166.34 246.03L163.26 246.03Z" fill="#6b4a20"/>
<line x1="168.20" y1="239.84" x2="168.20" y2="247.15" stroke="#6b4a20" stroke-width="1.3"/>
<line x1="165.74" y1="239.84" x2="170.66" y2="239.84" stroke="#6b4a20" stroke-width="1.2"/>
<line x1="165.74" y1="247.15" x2="170.66" y2="247.15" stroke="#6b4a20" stroke-width="1.2"/>
<circle cx="177.88" cy="217.48" r="1.4" fill="#f09c22"/>
<circle cx="182.16" cy="223.50" r="1.4" fill="#f09c22"/>
<circle cx="179.53" cy="234.25" r="1.4" fill="#f09c22"/>
<circle cx="176.93" cy="236.40" r="1.4" fill="#f09c22"/>
<circle cx="180.69" cy="238.55" r="1.4" fill="#f09c22"/>
<circle cx="178.11" cy="240.70" r="1.4" fill="#f09c22"/>
<circle cx="182.74" cy="245.00" r="1.4" fill="#f09c22"/>
<line x1="180.20" y1="223.50" x2="180.20" y2="244.14" stroke="#f09c22" stroke-width="1.3"/>
<line x1="177.74" y1="223.50" x2="182.66" y2="223.50" stroke="#f09c22" stroke-width="1.2"/>
<line x1="177.74" y1="244.14" x2="182.66" y2="244.14" stroke="#f09c22" stroke-width="1.2"/>
<circle cx="189.66" cy="222.64" r="1.4" fill="#1c3a80"/>
<circle cx="194.36" cy="229.95" r="1.4" fill="#1c3a80"/>
<circle cx="190.98" cy="231.24" r="1.4" fill="#1c3a80"/>
<circle cx="195.67" cy="232.96" r="1.4" fill="#1c3a80"/>
<circle cx="192.98" cy="235.54" r="1.4" fill="#1c3a80"/>
<circle cx="190.91" cy="245.00" r="1.4" fill="#1c3a80"/>
<circle cx="193.86" cy="247.15" r="1.4" fill="#1c3a80"/>
<circle cx="192.42" cy="249.30" r="1.4" fill="#1c3a80"/>
<circle cx="189.52" cy="253.60" r="1.4" fill="#1c3a80"/>
<circle cx="194.26" cy="255.75" r="1.4" fill="#1c3a80"/>
<circle cx="191.24" cy="262.20" r="1.4" fill="#1c3a80"/>
<circle cx="195.13" cy="264.35" r="1.4" fill="#1c3a80"/>
<line x1="192.30" y1="231.24" x2="192.30" y2="257.90" stroke="#1c3a80" stroke-width="1.3"/>
<line x1="189.84" y1="231.24" x2="194.76" y2="231.24" stroke="#1c3a80" stroke-width="1.2"/>
<line x1="189.84" y1="257.90" x2="194.76" y2="257.90" stroke="#1c3a80" stroke-width="1.2"/>
<line x1="135.50" y1="199.40" x2="135.50" y2="267.20" stroke="#231f20" stroke-width="1.4"/>
<line x1="132.10" y1="266.50" x2="200.50" y2="266.50" stroke="#231f20" stroke-width="1.4"/>
<line x1="132.10" y1="266.50" x2="135.50" y2="266.50" stroke="#231f20" stroke-width="1.1"/>
<text x="0.00" y="0.00" font-size="6.4" text-anchor="end" font-weight="normal" font-style="normal" fill="#231f20" transform="translate(129.80 268.80) scale(0.9 1)">0.0</text>
<line x1="132.10" y1="245.00" x2="135.50" y2="245.00" stroke="#231f20" stroke-width="1.1"/>
<text x="0.00" y="0.00" font-size="6.4" text-anchor="end" font-weight="normal" font-style="normal" fill="#231f20" transform="translate(129.80 247.30) scale(0.9 1)">0.5</text>
<line x1="132.10" y1="223.50" x2="135.50" y2="223.50" stroke="#231f20" stroke-width="1.1"/>
<text x="0.00" y="0.00" font-size="6.4" text-anchor="end" font-weight="normal" font-style="normal" fill="#231f20" transform="translate(129.80 225.80) scale(0.9 1)">1.0</text>
<line x1="132.10" y1="202.00" x2="135.50" y2="202.00" stroke="#231f20" stroke-width="1.1"/>
<text x="0.00" y="0.00" font-size="6.4" text-anchor="end" font-weight="normal" font-style="normal" fill="#231f20" transform="translate(129.80 204.30) scale(0.9 1)">1.5</text>
<line x1="143.90" y1="266.50" x2="143.90" y2="268.90" stroke="#231f20" stroke-width="1.0"/>
<line x1="156.00" y1="266.50" x2="156.00" y2="268.90" stroke="#231f20" stroke-width="1.0"/>
<line x1="168.20" y1="266.50" x2="168.20" y2="268.90" stroke="#231f20" stroke-width="1.0"/>
<line x1="180.20" y1="266.50" x2="180.20" y2="268.90" stroke="#231f20" stroke-width="1.0"/>
<line x1="192.30" y1="266.50" x2="192.30" y2="268.90" stroke="#231f20" stroke-width="1.0"/>
<text transform="translate(116.30 232.90) rotate(-90) scale(0.78 1)" font-size="9.0" text-anchor="middle" fill="#231f20">x10<tspan baseline-shift="3.78" font-size="5.58">6</tspan> cells</text>
<line x1="143.50" y1="207.80" x2="179.40" y2="207.80" stroke="#2b2b2b" stroke-width="1.2"/>
<line x1="143.50" y1="206.50" x2="143.50" y2="209.10" stroke="#2b2b2b" stroke-width="1.2"/>
<line x1="179.40" y1="206.50" x2="179.40" y2="209.10" stroke="#2b2b2b" stroke-width="1.2"/>
<text x="161.45" y="208.30" font-size="5.4" text-anchor="middle" font-weight="normal" font-style="normal" fill="#2b2b2b">**</text>
<line x1="179.40" y1="213.20" x2="196.60" y2="213.20" stroke="#2b2b2b" stroke-width="1.2"/>
<line x1="179.40" y1="211.90" x2="179.40" y2="214.50" stroke="#2b2b2b" stroke-width="1.2"/>
<line x1="196.60" y1="211.90" x2="196.60" y2="214.50" stroke="#2b2b2b" stroke-width="1.2"/>
<text x="188.00" y="211.50" font-size="5.2" text-anchor="middle" font-weight="normal" font-style="normal" fill="#2b2b2b">ns</text>
<text x="265.00" y="184.80" font-size="6.6" text-anchor="middle" font-weight="normal" font-style="normal" fill="#231f20">pro-B</text>
<rect x="236.60" y="235.30" width="8.20" height="31.20" fill="#dfa39b" fill-opacity="1"/>
<rect x="248.90" y="236.74" width="8.20" height="29.76" fill="#b3a0c9" fill-opacity="1"/>
<rect x="261.20" y="236.09" width="8.20" height="30.41" fill="#b1a184" fill-opacity="1"/>
<rect x="273.30" y="252.77" width="8.20" height="13.73" fill="#f8d6a6" fill-opacity="1"/>
<rect x="285.80" y="261.60" width="8.20" height="4.90" fill="#a9afd6" fill-opacity="1"/>
<circle cx="237.88" cy="208.95" r="1.4" fill="#b3143c"/>
<circle cx="242.00" cy="212.87" r="1.4" fill="#b3143c"/>
<circle cx="239.50" cy="214.18" r="1.4" fill="#b3143c"/>
<circle cx="243.80" cy="218.76" r="1.4" fill="#b3143c"/>
<circle cx="241.61" cy="223.99" r="1.4" fill="#b3143c"/>
<circle cx="238.14" cy="227.26" r="1.4" fill="#b3143c"/>
<circle cx="242.95" cy="230.53" r="1.4" fill="#b3143c"/>
<circle cx="240.81" cy="233.80" r="1.4" fill="#b3143c"/>
<circle cx="237.88" cy="237.07" r="1.4" fill="#b3143c"/>
<circle cx="241.24" cy="240.34" r="1.4" fill="#b3143c"/>
<circle cx="239.19" cy="243.61" r="1.4" fill="#b3143c"/>
<circle cx="243.99" cy="246.88" r="1.4" fill="#b3143c"/>
<circle cx="241.47" cy="250.15" r="1.4" fill="#b3143c"/>
<circle cx="238.88" cy="250.80" r="1.4" fill="#b3143c"/>
<circle cx="242.16" cy="259.96" r="1.4" fill="#b3143c"/>
<line x1="240.70" y1="218.76" x2="240.70" y2="249.50" stroke="#b3143c" stroke-width="1.3"/>
<line x1="238.24" y1="218.76" x2="243.16" y2="218.76" stroke="#b3143c" stroke-width="1.2"/>
<line x1="238.24" y1="249.50" x2="243.16" y2="249.50" stroke="#b3143c" stroke-width="1.2"/>
<path d="M250.40 226.98L251.94 224.18L248.86 224.18Z" fill="#5a2a84"/>
<circle cx="255.33" cy="228.57" r="1.4" fill="#5a2a84"/>
<circle cx="252.55" cy="230.53" r="1.4" fill="#5a2a84"/>
<circle cx="255.98" cy="239.03" r="1.4" fill="#5a2a84"/>
<circle cx="254.47" cy="252.77" r="1.4" fill="#5a2a84"/>
<line x1="253.00" y1="225.30" x2="253.00" y2="246.88" stroke="#5a2a84" stroke-width="1.3"/>
<line x1="250.54" y1="225.30" x2="255.46" y2="225.30" stroke="#5a2a84" stroke-width="1.2"/>
<line x1="250.54" y1="246.88" x2="255.46" y2="246.88" stroke="#5a2a84" stroke-width="1.2"/>
<path d="M263.45 225.67L264.99 222.87L261.91 222.87Z" fill="#6b4a20"/>
<path d="M266.15 237.44L267.69 234.64L264.61 234.64Z" fill="#6b4a20"/>
<path d="M263.55 246.60L265.09 243.80L262.01 243.80Z" fill="#6b4a20"/>
<line x1="265.30" y1="223.99" x2="265.30" y2="244.92" stroke="#6b4a20" stroke-width="1.3"/>
<line x1="262.84" y1="223.99" x2="267.76" y2="223.99" stroke="#6b4a20" stroke-width="1.2"/>
<line x1="262.84" y1="244.92" x2="267.76" y2="244.92" stroke="#6b4a20" stroke-width="1.2"/>
<circle cx="274.93" cy="248.19" r="1.4" fill="#f09c22"/>
<circle cx="279.05" cy="250.15" r="1.4" fill="#f09c22"/>
<circle cx="275.67" cy="251.46" r="1.4" fill="#f09c22"/>
<circle cx="280.64" cy="252.77" r="1.4" fill="#f09c22"/>
<circle cx="277.45" cy="258.00" r="1.4" fill="#f09c22"/>
<line x1="277.40" y1="248.19" x2="277.40" y2="255.38" stroke="#f09c22" stroke-width="1.3"/>
<line x1="274.94" y1="248.19" x2="279.86" y2="248.19" stroke="#f09c22" stroke-width="1.2"/>
<line x1="274.94" y1="255.38" x2="279.86" y2="255.38" stroke="#f09c22" stroke-width="1.2"/>
<circle cx="287.33" cy="254.73" r="1.4" fill="#1c3a80"/>
<circle cx="291.20" cy="256.69" r="1.4" fill="#1c3a80"/>
<circle cx="288.65" cy="258.65" r="1.4" fill="#1c3a80"/>
<circle cx="293.06" cy="259.96" r="1.4" fill="#1c3a80"/>
<circle cx="290.43" cy="261.27" r="1.4" fill="#1c3a80"/>
<circle cx="287.89" cy="262.58" r="1.4" fill="#1c3a80"/>
<circle cx="291.90" cy="263.23" r="1.4" fill="#1c3a80"/>
<circle cx="290.38" cy="263.88" r="1.4" fill="#1c3a80"/>
<circle cx="287.54" cy="264.54" r="1.4" fill="#1c3a80"/>
<circle cx="291.35" cy="265.19" r="1.4" fill="#1c3a80"/>
<line x1="289.90" y1="258.65" x2="289.90" y2="264.54" stroke="#1c3a80" stroke-width="1.3"/>
<line x1="287.44" y1="258.65" x2="292.36" y2="258.65" stroke="#1c3a80" stroke-width="1.2"/>
<line x1="287.44" y1="264.54" x2="292.36" y2="264.54" stroke="#1c3a80" stroke-width="1.2"/>
<line x1="232.10" y1="198.50" x2="232.10" y2="267.20" stroke="#231f20" stroke-width="1.4"/>
<line x1="228.70" y1="266.50" x2="298.00" y2="266.50" stroke="#231f20" stroke-width="1.4"/>
<line x1="228.70" y1="266.50" x2="232.10" y2="266.50" stroke="#231f20" stroke-width="1.1"/>
<text x="0.00" y="0.00" font-size="6.4" text-anchor="end" font-weight="normal" font-style="normal" fill="#231f20" transform="translate(226.40 268.80) scale(0.9 1)">0</text>
<line x1="228.70" y1="253.42" x2="232.10" y2="253.42" stroke="#231f20" stroke-width="1.1"/>
<text x="0.00" y="0.00" font-size="6.4" text-anchor="end" font-weight="normal" font-style="normal" fill="#231f20" transform="translate(226.40 255.72) scale(0.9 1)">2</text>
<line x1="228.70" y1="240.34" x2="232.10" y2="240.34" stroke="#231f20" stroke-width="1.1"/>
<text x="0.00" y="0.00" font-size="6.4" text-anchor="end" font-weight="normal" font-style="normal" fill="#231f20" transform="translate(226.40 242.64) scale(0.9 1)">4</text>
<line x1="228.70" y1="227.26" x2="232.10" y2="227.26" stroke="#231f20" stroke-width="1.1"/>
<text x="0.00" y="0.00" font-size="6.4" text-anchor="end" font-weight="normal" font-style="normal" fill="#231f20" transform="translate(226.40 229.56) scale(0.9 1)">6</text>
<line x1="228.70" y1="214.18" x2="232.10" y2="214.18" stroke="#231f20" stroke-width="1.1"/>
<text x="0.00" y="0.00" font-size="6.4" text-anchor="end" font-weight="normal" font-style="normal" fill="#231f20" transform="translate(226.40 216.48) scale(0.9 1)">8</text>
<line x1="228.70" y1="201.10" x2="232.10" y2="201.10" stroke="#231f20" stroke-width="1.1"/>
<text x="0.00" y="0.00" font-size="6.4" text-anchor="end" font-weight="normal" font-style="normal" fill="#231f20" transform="translate(226.40 203.40) scale(0.9 1)">10</text>
<line x1="240.70" y1="266.50" x2="240.70" y2="268.90" stroke="#231f20" stroke-width="1.0"/>
<line x1="253.00" y1="266.50" x2="253.00" y2="268.90" stroke="#231f20" stroke-width="1.0"/>
<line x1="265.30" y1="266.50" x2="265.30" y2="268.90" stroke="#231f20" stroke-width="1.0"/>
<line x1="277.40" y1="266.50" x2="277.40" y2="268.90" stroke="#231f20" stroke-width="1.0"/>
<line x1="289.90" y1="266.50" x2="289.90" y2="268.90" stroke="#231f20" stroke-width="1.0"/>
<text transform="translate(214.60 232.90) rotate(-90) scale(0.78 1)" font-size="9.0" text-anchor="middle" fill="#231f20">x10<tspan baseline-shift="3.78" font-size="5.58">6</tspan> cells</text>
<line x1="239.30" y1="205.20" x2="262.90" y2="205.20" stroke="#2b2b2b" stroke-width="1.2"/>
<line x1="239.30" y1="203.90" x2="239.30" y2="206.50" stroke="#2b2b2b" stroke-width="1.2"/>
<line x1="262.90" y1="203.90" x2="262.90" y2="206.50" stroke="#2b2b2b" stroke-width="1.2"/>
<text x="251.10" y="203.50" font-size="5.2" text-anchor="middle" font-weight="normal" font-style="normal" fill="#2b2b2b">ns</text>
<line x1="266.20" y1="210.30" x2="279.60" y2="210.30" stroke="#2b2b2b" stroke-width="1.2"/>
<line x1="266.20" y1="209.00" x2="266.20" y2="211.60" stroke="#2b2b2b" stroke-width="1.2"/>
<line x1="279.60" y1="209.00" x2="279.60" y2="211.60" stroke="#2b2b2b" stroke-width="1.2"/>
<text x="272.90" y="210.80" font-size="5.4" text-anchor="middle" font-weight="normal" font-style="normal" fill="#2b2b2b">**</text>
<line x1="277.10" y1="239.80" x2="290.50" y2="239.80" stroke="#2b2b2b" stroke-width="1.2"/>
<line x1="277.10" y1="238.50" x2="277.10" y2="241.10" stroke="#2b2b2b" stroke-width="1.2"/>
<line x1="290.50" y1="238.50" x2="290.50" y2="241.10" stroke="#2b2b2b" stroke-width="1.2"/>
<text x="283.80" y="240.30" font-size="5.4" text-anchor="middle" font-weight="normal" font-style="normal" fill="#2b2b2b">****</text>
<text x="364.50" y="184.80" font-size="6.6" text-anchor="middle" font-weight="normal" font-style="normal" fill="#231f20">pre-B</text>
<rect x="334.80" y="241.26" width="8.20" height="25.24" fill="#dfa39b" fill-opacity="1"/>
<rect x="347.50" y="244.27" width="8.20" height="22.23" fill="#b3a0c9" fill-opacity="1"/>
<rect x="360.50" y="228.08" width="8.20" height="38.42" fill="#b1a184" fill-opacity="1"/>
<rect x="373.50" y="254.43" width="8.20" height="12.07" fill="#f8d6a6" fill-opacity="1"/>
<rect x="386.60" y="262.93" width="8.20" height="3.57" fill="#a9afd6" fill-opacity="1"/>
<circle cx="336.56" cy="222.60" r="1.4" fill="#b3143c"/>
<circle cx="340.77" cy="228.08" r="1.4" fill="#b3143c"/>
<circle cx="337.93" cy="230.83" r="1.4" fill="#b3143c"/>
<circle cx="341.60" cy="232.20" r="1.4" fill="#b3143c"/>
<circle cx="340.38" cy="236.32" r="1.4" fill="#b3143c"/>
<circle cx="337.34" cy="239.06" r="1.4" fill="#b3143c"/>
<circle cx="341.35" cy="241.80" r="1.4" fill="#b3143c"/>
<circle cx="338.64" cy="244.55" r="1.4" fill="#b3143c"/>
<circle cx="342.21" cy="247.29" r="1.4" fill="#b3143c"/>
<circle cx="340.13" cy="250.04" r="1.4" fill="#b3143c"/>
<circle cx="338.40" cy="252.78" r="1.4" fill="#b3143c"/>
<circle cx="341.85" cy="261.01" r="1.4" fill="#b3143c"/>
<line x1="338.90" y1="233.57" x2="338.90" y2="251.41" stroke="#b3143c" stroke-width="1.3"/>
<line x1="336.44" y1="233.57" x2="341.36" y2="233.57" stroke="#b3143c" stroke-width="1.2"/>
<line x1="336.44" y1="251.41" x2="341.36" y2="251.41" stroke="#b3143c" stroke-width="1.2"/>
<path d="M348.88 234.70L350.42 231.90L347.34 231.90Z" fill="#5a2a84"/>
<circle cx="352.87" cy="239.06" r="1.4" fill="#5a2a84"/>
<circle cx="350.56" cy="241.80" r="1.4" fill="#5a2a84"/>
<circle cx="354.47" cy="252.78" r="1.4" fill="#5a2a84"/>
<circle cx="352.94" cy="261.01" r="1.4" fill="#5a2a84"/>
<line x1="351.60" y1="233.57" x2="351.60" y2="258.27" stroke="#5a2a84" stroke-width="1.3"/>
<line x1="349.14" y1="233.57" x2="354.06" y2="233.57" stroke="#5a2a84" stroke-width="1.2"/>
<line x1="349.14" y1="258.27" x2="354.06" y2="258.27" stroke="#5a2a84" stroke-width="1.2"/>
<path d="M362.36 207.81L363.90 205.01L360.82 205.01Z" fill="#6b4a20"/>
<path d="M365.82 225.65L367.36 222.85L364.28 222.85Z" fill="#6b4a20"/>
<path d="M363.82 251.72L365.36 248.92L362.28 248.92Z" fill="#6b4a20"/>
<line x1="364.60" y1="206.13" x2="364.60" y2="250.04" stroke="#6b4a20" stroke-width="1.3"/>
<line x1="362.14" y1="206.13" x2="367.06" y2="206.13" stroke="#6b4a20" stroke-width="1.2"/>
<line x1="362.14" y1="250.04" x2="367.06" y2="250.04" stroke="#6b4a20" stroke-width="1.2"/>
<circle cx="375.12" cy="244.55" r="1.4" fill="#f09c22"/>
<circle cx="379.15" cy="251.41" r="1.4" fill="#f09c22"/>
<circle cx="376.89" cy="252.78" r="1.4" fill="#f09c22"/>
<circle cx="381.02" cy="254.15" r="1.4" fill="#f09c22"/>
<circle cx="378.90" cy="255.52" r="1.4" fill="#f09c22"/>
<circle cx="375.67" cy="256.90" r="1.4" fill="#f09c22"/>
<line x1="377.60" y1="250.58" x2="377.60" y2="258.27" stroke="#f09c22" stroke-width="1.3"/>
<line x1="375.14" y1="250.58" x2="380.06" y2="250.58" stroke="#f09c22" stroke-width="1.2"/>
<line x1="375.14" y1="258.27" x2="380.06" y2="258.27" stroke="#f09c22" stroke-width="1.2"/>
<circle cx="388.44" cy="256.90" r="1.4" fill="#1c3a80"/>
<circle cx="392.49" cy="259.64" r="1.4" fill="#1c3a80"/>
<circle cx="390.55" cy="261.01" r="1.4" fill="#1c3a80"/>
<circle cx="387.45" cy="262.38" r="1.4" fill="#1c3a80"/>
<circle cx="391.75" cy="263.76" r="1.4" fill="#1c3a80"/>
<circle cx="388.22" cy="264.30" r="1.4" fill="#1c3a80"/>
<circle cx="393.55" cy="265.13" r="1.4" fill="#1c3a80"/>
<circle cx="390.95" cy="265.68" r="1.4" fill="#1c3a80"/>
<line x1="390.70" y1="259.64" x2="390.70" y2="265.13" stroke="#1c3a80" stroke-width="1.3"/>
<line x1="388.24" y1="259.64" x2="393.16" y2="259.64" stroke="#1c3a80" stroke-width="1.2"/>
<line x1="388.24" y1="265.13" x2="393.16" y2="265.13" stroke="#1c3a80" stroke-width="1.2"/>
<line x1="330.40" y1="195.10" x2="330.40" y2="267.20" stroke="#231f20" stroke-width="1.4"/>
<line x1="327.00" y1="266.50" x2="398.40" y2="266.50" stroke="#231f20" stroke-width="1.4"/>
<line x1="327.00" y1="266.50" x2="330.40" y2="266.50" stroke="#231f20" stroke-width="1.1"/>
<text x="0.00" y="0.00" font-size="6.4" text-anchor="end" font-weight="normal" font-style="normal" fill="#231f20" transform="translate(324.70 268.80) scale(0.9 1)">0</text>
<line x1="327.00" y1="252.78" x2="330.40" y2="252.78" stroke="#231f20" stroke-width="1.1"/>
<text x="0.00" y="0.00" font-size="6.4" text-anchor="end" font-weight="normal" font-style="normal" fill="#231f20" transform="translate(324.70 255.08) scale(0.9 1)">5</text>
<line x1="327.00" y1="239.06" x2="330.40" y2="239.06" stroke="#231f20" stroke-width="1.1"/>
<text x="0.00" y="0.00" font-size="6.4" text-anchor="end" font-weight="normal" font-style="normal" fill="#231f20" transform="translate(324.70 241.36) scale(0.9 1)">10</text>
<line x1="327.00" y1="225.34" x2="330.40" y2="225.34" stroke="#231f20" stroke-width="1.1"/>
<text x="0.00" y="0.00" font-size="6.4" text-anchor="end" font-weight="normal" font-style="normal" fill="#231f20" transform="translate(324.70 227.64) scale(0.9 1)">15</text>
<line x1="327.00" y1="211.62" x2="330.40" y2="211.62" stroke="#231f20" stroke-width="1.1"/>
<text x="0.00" y="0.00" font-size="6.4" text-anchor="end" font-weight="normal" font-style="normal" fill="#231f20" transform="translate(324.70 213.92) scale(0.9 1)">20</text>
<line x1="327.00" y1="197.90" x2="330.40" y2="197.90" stroke="#231f20" stroke-width="1.1"/>
<text x="0.00" y="0.00" font-size="6.4" text-anchor="end" font-weight="normal" font-style="normal" fill="#231f20" transform="translate(324.70 200.20) scale(0.9 1)">25</text>
<line x1="338.90" y1="266.50" x2="338.90" y2="268.90" stroke="#231f20" stroke-width="1.0"/>
<line x1="351.60" y1="266.50" x2="351.60" y2="268.90" stroke="#231f20" stroke-width="1.0"/>
<line x1="364.60" y1="266.50" x2="364.60" y2="268.90" stroke="#231f20" stroke-width="1.0"/>
<line x1="377.60" y1="266.50" x2="377.60" y2="268.90" stroke="#231f20" stroke-width="1.0"/>
<line x1="390.70" y1="266.50" x2="390.70" y2="268.90" stroke="#231f20" stroke-width="1.0"/>
<text transform="translate(311.70 230.80) rotate(-90) scale(0.78 1)" font-size="9.0" text-anchor="middle" fill="#231f20">x10<tspan baseline-shift="3.78" font-size="5.58">6</tspan> cells</text>
<line x1="337.00" y1="202.40" x2="362.60" y2="202.40" stroke="#2b2b2b" stroke-width="1.2"/>
<line x1="337.00" y1="201.10" x2="337.00" y2="203.70" stroke="#2b2b2b" stroke-width="1.2"/>
<line x1="362.60" y1="201.10" x2="362.60" y2="203.70" stroke="#2b2b2b" stroke-width="1.2"/>
<text x="349.80" y="200.70" font-size="5.2" text-anchor="middle" font-weight="normal" font-style="normal" fill="#2b2b2b">ns</text>
<line x1="365.50" y1="202.40" x2="379.90" y2="202.40" stroke="#2b2b2b" stroke-width="1.2"/>
<line x1="365.50" y1="201.10" x2="365.50" y2="203.70" stroke="#2b2b2b" stroke-width="1.2"/>
<line x1="379.90" y1="201.10" x2="379.90" y2="203.70" stroke="#2b2b2b" stroke-width="1.2"/>
<text x="372.70" y="202.90" font-size="5.4" text-anchor="middle" font-weight="normal" font-style="normal" fill="#2b2b2b">*</text>
<line x1="376.80" y1="238.40" x2="390.70" y2="238.40" stroke="#2b2b2b" stroke-width="1.2"/>
<line x1="376.80" y1="237.10" x2="376.80" y2="239.70" stroke="#2b2b2b" stroke-width="1.2"/>
<line x1="390.70" y1="237.10" x2="390.70" y2="239.70" stroke="#2b2b2b" stroke-width="1.2"/>
<text x="383.75" y="238.90" font-size="5.4" text-anchor="middle" font-weight="normal" font-style="normal" fill="#2b2b2b">****</text>
<text x="414.20" y="170.30" font-size="11.5" text-anchor="start" font-weight="bold" font-style="normal" fill="#000">E</text>
<text x="478.00" y="170.80" font-size="8.6" text-anchor="middle" font-weight="normal" font-style="normal" fill="#231f20">Spleen</text>
<text x="0.00" y="0.00" font-size="7.4" text-anchor="middle" font-weight="normal" font-style="normal" fill="#231f20" transform="translate(478.00 184.80) scale(0.85 1)">B220<tspan baseline-shift="3.11" font-size="4.59">+</tspan></text>
<rect x="447.35" y="234.60" width="8.70" height="31.70" fill="#dfa39b"/>
<rect x="447.35" y="220.69" width="8.70" height="8.22" fill="#dfa39b"/>
<rect x="460.35" y="234.60" width="8.70" height="31.70" fill="#b3a0c9"/>
<rect x="460.35" y="218.99" width="8.70" height="9.91" fill="#b3a0c9"/>
<rect x="473.85" y="234.60" width="8.70" height="31.70" fill="#b1a184"/>
<rect x="473.85" y="208.28" width="8.70" height="20.62" fill="#b1a184"/>
<rect x="487.05" y="251.30" width="8.70" height="15.00" fill="#f8d6a6"/>
<rect x="499.95" y="264.40" width="8.70" height="1.90" fill="#a9afd6"/>
<path d="M452.50 211.98L454.04 213.80L452.50 215.62L450.96 213.80Z" fill="#b3143c"/>
<path d="M453.28 212.41L454.82 214.23L453.28 216.05L451.74 214.23Z" fill="#b3143c"/>
<path d="M453.63 212.83L455.17 214.65L453.63 216.47L452.09 214.65Z" fill="#b3143c"/>
<path d="M454.59 213.26L456.13 215.08L454.59 216.90L453.05 215.08Z" fill="#b3143c"/>
<path d="M453.27 213.68L454.81 215.50L453.27 217.32L451.73 215.50Z" fill="#b3143c"/>
<path d="M454.46 214.11L456.00 215.93L454.46 217.75L452.92 215.93Z" fill="#b3143c"/>
<path d="M448.63 214.96L450.17 216.78L448.63 218.59L447.09 216.78Z" fill="#b3143c"/>
<path d="M451.48 216.23L453.02 218.05L451.48 219.87L449.94 218.05Z" fill="#b3143c"/>
<path d="M454.59 217.08L456.13 218.90L454.59 220.72L453.05 218.90Z" fill="#b3143c"/>
<path d="M452.67 217.93L454.21 219.75L452.67 221.57L451.13 219.75Z" fill="#b3143c"/>
<path d="M454.32 219.21L455.86 221.03L454.32 222.84L452.78 221.03Z" fill="#b3143c"/>
<path d="M449.18 220.48L450.72 222.30L449.18 224.12L447.64 222.30Z" fill="#b3143c"/>
<path d="M451.50 221.76L453.04 223.58L451.50 225.40L449.96 223.58Z" fill="#b3143c"/>
<path d="M450.05 222.61L451.59 224.43L450.05 226.25L448.51 224.43Z" fill="#b3143c"/>
<path d="M451.99 223.46L453.53 225.28L451.99 227.09L450.45 225.28Z" fill="#b3143c"/>
<path d="M465.18 212.51L466.72 209.71L463.64 209.71Z" fill="#5a2a84"/>
<path d="M461.52 215.48L463.06 212.68L459.98 212.68Z" fill="#5a2a84"/>
<path d="M462.85 218.88L464.39 216.08L461.31 216.08Z" fill="#5a2a84"/>
<path d="M463.26 220.58L464.80 217.78L461.72 217.78Z" fill="#5a2a84"/>
<path d="M467.42 221.86L468.96 219.06L465.88 219.06Z" fill="#5a2a84"/>
<path d="M466.43 223.98L467.97 221.18L464.89 221.18Z" fill="#5a2a84"/>
<path d="M462.48 225.26L464.02 222.46L460.94 222.46Z" fill="#5a2a84"/>
<path d="M480.14 195.97L481.68 198.77L478.60 198.77Z" fill="#6b4a20"/>
<path d="M475.84 207.02L477.38 209.82L474.30 209.82Z" fill="#6b4a20"/>
<path d="M478.97 216.37L480.51 219.17L477.43 219.17Z" fill="#6b4a20"/>
<circle cx="488.96" cy="234.60" r="1.4" fill="#f09c22"/>
<circle cx="488.15" cy="243.05" r="1.4" fill="#f09c22"/>
<circle cx="493.82" cy="249.39" r="1.4" fill="#f09c22"/>
<circle cx="489.50" cy="252.56" r="1.4" fill="#f09c22"/>
<circle cx="489.54" cy="253.62" r="1.4" fill="#f09c22"/>
<circle cx="494.55" cy="255.73" r="1.4" fill="#f09c22"/>
<circle cx="493.83" cy="257.85" r="1.4" fill="#f09c22"/>
<circle cx="502.93" cy="256.79" r="1.4" fill="#1c3a80"/>
<circle cx="507.31" cy="261.02" r="1.4" fill="#1c3a80"/>
<circle cx="504.56" cy="262.50" r="1.4" fill="#1c3a80"/>
<circle cx="505.46" cy="263.76" r="1.4" fill="#1c3a80"/>
<circle cx="502.37" cy="264.19" r="1.4" fill="#1c3a80"/>
<circle cx="507.18" cy="264.61" r="1.4" fill="#1c3a80"/>
<circle cx="505.54" cy="265.24" r="1.4" fill="#1c3a80"/>
<circle cx="507.34" cy="265.67" r="1.4" fill="#1c3a80"/>
<circle cx="506.87" cy="265.88" r="1.4" fill="#1c3a80"/>
<circle cx="502.99" cy="266.09" r="1.4" fill="#1c3a80"/>
<path d="M450.50 235.38L452.04 237.20L450.50 239.02L448.96 237.20Z" fill="#b3143c"/>
<path d="M452.50 236.38L454.04 238.20L452.50 240.02L450.96 238.20Z" fill="#b3143c"/>
<line x1="451.70" y1="215.08" x2="451.70" y2="224.43" stroke="#b3143c" stroke-width="1.0"/>
<line x1="449.10" y1="215.08" x2="454.30" y2="215.08" stroke="#b3143c" stroke-width="1.0"/>
<line x1="449.10" y1="224.43" x2="454.30" y2="224.43" stroke="#b3143c" stroke-width="1.0"/>
<line x1="464.70" y1="215.08" x2="464.70" y2="222.30" stroke="#5a2a84" stroke-width="1.0"/>
<line x1="462.10" y1="215.08" x2="467.30" y2="215.08" stroke="#5a2a84" stroke-width="1.0"/>
<line x1="462.10" y1="222.30" x2="467.30" y2="222.30" stroke="#5a2a84" stroke-width="1.0"/>
<line x1="478.20" y1="197.65" x2="478.20" y2="218.05" stroke="#6b4a20" stroke-width="1.0"/>
<line x1="475.60" y1="197.65" x2="480.80" y2="197.65" stroke="#6b4a20" stroke-width="1.0"/>
<line x1="475.60" y1="218.05" x2="480.80" y2="218.05" stroke="#6b4a20" stroke-width="1.0"/>
<line x1="491.40" y1="242.00" x2="491.40" y2="258.90" stroke="#f09c22" stroke-width="1.0"/>
<line x1="488.80" y1="242.00" x2="494.00" y2="242.00" stroke="#f09c22" stroke-width="1.0"/>
<line x1="488.80" y1="258.90" x2="494.00" y2="258.90" stroke="#f09c22" stroke-width="1.0"/>
<line x1="504.30" y1="261.02" x2="504.30" y2="265.67" stroke="#1c3a80" stroke-width="1.0"/>
<line x1="501.70" y1="261.02" x2="506.90" y2="261.02" stroke="#1c3a80" stroke-width="1.0"/>
<line x1="501.70" y1="265.67" x2="506.90" y2="265.67" stroke="#1c3a80" stroke-width="1.0"/>
<line x1="442.70" y1="196.00" x2="442.70" y2="228.90" stroke="#231f20" stroke-width="1.4"/>
<line x1="442.70" y1="234.00" x2="442.70" y2="266.30" stroke="#231f20" stroke-width="1.4"/>
<line x1="439.30" y1="266.30" x2="512.70" y2="266.30" stroke="#231f20" stroke-width="1.4"/>
<line x1="441.10" y1="228.90" x2="444.30" y2="228.90" stroke="#231f20" stroke-width="1.1"/>
<line x1="441.10" y1="234.40" x2="444.30" y2="234.40" stroke="#231f20" stroke-width="1.1"/>
<line x1="439.30" y1="196.80" x2="442.70" y2="196.80" stroke="#231f20" stroke-width="1.1"/>
<text x="0.00" y="0.00" font-size="6.4" text-anchor="end" font-weight="normal" font-style="normal" fill="#231f20" transform="translate(437.00 199.10) scale(0.9 1)">90</text>
<line x1="439.30" y1="209.55" x2="442.70" y2="209.55" stroke="#231f20" stroke-width="1.1"/>
<text x="0.00" y="0.00" font-size="6.4" text-anchor="end" font-weight="normal" font-style="normal" fill="#231f20" transform="translate(437.00 211.85) scale(0.9 1)">60</text>
<line x1="439.30" y1="222.30" x2="442.70" y2="222.30" stroke="#231f20" stroke-width="1.1"/>
<text x="0.00" y="0.00" font-size="6.4" text-anchor="end" font-weight="normal" font-style="normal" fill="#231f20" transform="translate(437.00 224.60) scale(0.9 1)">30</text>
<line x1="439.30" y1="234.60" x2="442.70" y2="234.60" stroke="#231f20" stroke-width="1.1"/>
<text x="0.00" y="0.00" font-size="6.4" text-anchor="end" font-weight="normal" font-style="normal" fill="#231f20" transform="translate(437.00 236.90) scale(0.9 1)">15</text>
<line x1="439.30" y1="245.17" x2="442.70" y2="245.17" stroke="#231f20" stroke-width="1.1"/>
<text x="0.00" y="0.00" font-size="6.4" text-anchor="end" font-weight="normal" font-style="normal" fill="#231f20" transform="translate(437.00 247.47) scale(0.9 1)">10</text>
<line x1="439.30" y1="255.73" x2="442.70" y2="255.73" stroke="#231f20" stroke-width="1.1"/>
<text x="0.00" y="0.00" font-size="6.4" text-anchor="end" font-weight="normal" font-style="normal" fill="#231f20" transform="translate(437.00 258.03) scale(0.9 1)">5</text>
<line x1="439.30" y1="266.30" x2="442.70" y2="266.30" stroke="#231f20" stroke-width="1.1"/>
<text x="0.00" y="0.00" font-size="6.4" text-anchor="end" font-weight="normal" font-style="normal" fill="#231f20" transform="translate(437.00 268.60) scale(0.9 1)">0</text>
<line x1="451.70" y1="266.30" x2="451.70" y2="268.70" stroke="#231f20" stroke-width="1.0"/>
<line x1="464.70" y1="266.30" x2="464.70" y2="268.70" stroke="#231f20" stroke-width="1.0"/>
<line x1="478.20" y1="266.30" x2="478.20" y2="268.70" stroke="#231f20" stroke-width="1.0"/>
<line x1="491.40" y1="266.30" x2="491.40" y2="268.70" stroke="#231f20" stroke-width="1.0"/>
<line x1="504.30" y1="266.30" x2="504.30" y2="268.70" stroke="#231f20" stroke-width="1.0"/>
<text transform="translate(424.50 230.60) rotate(-90) scale(0.78 1)" font-size="9.0" text-anchor="middle" fill="#231f20">x10<tspan baseline-shift="3.78" font-size="5.58">5</tspan> cells</text>
<line x1="450.50" y1="194.00" x2="475.90" y2="194.00" stroke="#2b2b2b" stroke-width="1.2"/>
<line x1="450.50" y1="192.70" x2="450.50" y2="195.30" stroke="#2b2b2b" stroke-width="1.2"/>
<line x1="475.90" y1="192.70" x2="475.90" y2="195.30" stroke="#2b2b2b" stroke-width="1.2"/>
<text x="463.20" y="194.50" font-size="5.4" text-anchor="middle" font-weight="normal" font-style="normal" fill="#2b2b2b">**</text>
<line x1="479.20" y1="194.00" x2="493.10" y2="194.00" stroke="#2b2b2b" stroke-width="1.2"/>
<line x1="479.20" y1="192.70" x2="479.20" y2="195.30" stroke="#2b2b2b" stroke-width="1.2"/>
<line x1="493.10" y1="192.70" x2="493.10" y2="195.30" stroke="#2b2b2b" stroke-width="1.2"/>
<text x="486.15" y="194.50" font-size="5.4" text-anchor="middle" font-weight="normal" font-style="normal" fill="#2b2b2b">**</text>
<line x1="490.60" y1="230.00" x2="504.60" y2="230.00" stroke="#2b2b2b" stroke-width="1.2"/>
<line x1="490.60" y1="228.70" x2="490.60" y2="231.30" stroke="#2b2b2b" stroke-width="1.2"/>
<line x1="504.60" y1="228.70" x2="504.60" y2="231.30" stroke="#2b2b2b" stroke-width="1.2"/>
<text x="497.60" y="230.50" font-size="5.4" text-anchor="middle" font-weight="normal" font-style="normal" fill="#2b2b2b">***</text>
<rect x="68.00" y="280.00" width="10.20" height="5.80" fill="#dfa39b"/>
<text x="0.00" y="0.00" font-size="6.0" text-anchor="start" font-weight="normal" font-style="normal" fill="#231f20" transform="translate(80.40 284.80) scale(0.9 1)">Eμ-<tspan font-style="italic">Myc</tspan> (<tspan font-style="italic">n</tspan>=15)</text>
<rect x="125.50" y="280.00" width="10.20" height="5.80" fill="#b3a0c9"/>
<text x="0.00" y="0.00" font-size="6.0" text-anchor="start" font-weight="normal" font-style="normal" fill="#231f20" transform="translate(137.90 284.80) scale(0.9 1)">Eμ-<tspan font-style="italic">Myc/Rag1Cre</tspan> (<tspan font-style="italic">n</tspan>=5)</text>
<rect x="203.00" y="280.00" width="10.20" height="5.80" fill="#b1a184"/>
<text x="0.00" y="0.00" font-size="6.0" text-anchor="start" font-weight="normal" font-style="normal" fill="#231f20" transform="translate(215.40 284.80) scale(0.9 1)"><tspan font-style="italic">Bim</tspan><tspan baseline-shift="2.27" font-size="3.35">−/−</tspan> Eμ-<tspan font-style="italic">Myc</tspan> (<tspan font-style="italic">n</tspan>=3)</text>
<rect x="272.00" y="280.00" width="10.20" height="5.80" fill="#f8d6a6"/>
<text x="0.00" y="0.00" font-size="6.0" text-anchor="start" font-weight="normal" font-style="normal" fill="#231f20" transform="translate(284.40 284.80) scale(0.9 1)"><tspan font-style="italic">Bim</tspan><tspan baseline-shift="2.27" font-size="3.35">−/−</tspan> <tspan font-style="italic">Mnt</tspan><tspan baseline-shift="2.27" font-size="3.35">fl/fl</tspan> Eμ-<tspan font-style="italic">Myc/Rag1Cre</tspan> (<tspan font-style="italic">n</tspan>=6)</text>
<rect x="379.00" y="280.00" width="10.20" height="5.80" fill="#a9afd6"/>
<text x="0.00" y="0.00" font-size="6.0" text-anchor="start" font-weight="normal" font-style="normal" fill="#231f20" transform="translate(391.40 284.80) scale(0.9 1)"><tspan font-style="italic">Mnt</tspan><tspan baseline-shift="2.27" font-size="3.35">fl/fl</tspan> Eμ-<tspan font-style="italic">Myc/Rag1Cre</tspan> (<tspan font-style="italic">n</tspan>=11)</text>
<text x="7.40" y="310.80" font-size="11" text-anchor="start" font-weight="bold" font-style="normal" fill="#000">F</text>
<rect x="35.50" y="410.39" width="10.20" height="9.21" fill="#dfa39b" fill-opacity="1"/>
<rect x="49.30" y="413.68" width="10.20" height="5.92" fill="#b1a184" fill-opacity="1"/>
<rect x="62.70" y="409.07" width="10.20" height="10.53" fill="#f8d6a6" fill-opacity="1"/>
<rect x="76.20" y="392.95" width="10.20" height="26.65" fill="#a9afd6" fill-opacity="1"/>
<path d="M37.18 401.33L38.72 403.15L37.18 404.97L35.64 403.15Z" fill="#b3143c"/>
<path d="M42.53 402.98L44.07 404.80L42.53 406.62L40.99 404.80Z" fill="#b3143c"/>
<path d="M39.17 403.80L40.71 405.62L39.17 407.44L37.63 405.62Z" fill="#b3143c"/>
<path d="M44.33 406.27L45.87 408.09L44.33 409.91L42.79 408.09Z" fill="#b3143c"/>
<path d="M40.60 407.91L42.14 409.73L40.60 411.55L39.06 409.73Z" fill="#b3143c"/>
<path d="M37.13 409.56L38.67 411.38L37.13 413.19L35.59 411.38Z" fill="#b3143c"/>
<path d="M42.69 409.56L44.23 411.38L42.69 413.19L41.15 411.38Z" fill="#b3143c"/>
<path d="M41.01 410.38L42.55 412.20L41.01 414.02L39.47 412.20Z" fill="#b3143c"/>
<path d="M36.45 411.20L37.99 413.02L36.45 414.84L34.91 413.02Z" fill="#b3143c"/>
<path d="M41.39 412.02L42.93 413.84L41.39 415.66L39.85 413.84Z" fill="#b3143c"/>
<line x1="40.60" y1="404.80" x2="40.60" y2="414.67" stroke="#b3143c" stroke-width="1.3"/>
<line x1="37.54" y1="404.80" x2="43.66" y2="404.80" stroke="#b3143c" stroke-width="1.2"/>
<line x1="37.54" y1="414.67" x2="43.66" y2="414.67" stroke="#b3143c" stroke-width="1.2"/>
<path d="M51.51 411.34L53.05 414.14L49.97 414.14Z" fill="#6b4a20"/>
<path d="M56.03 412.00L57.57 414.80L54.49 414.80Z" fill="#6b4a20"/>
<path d="M52.78 412.33L54.32 415.13L51.24 415.13Z" fill="#6b4a20"/>
<line x1="54.40" y1="412.69" x2="54.40" y2="414.67" stroke="#6b4a20" stroke-width="1.3"/>
<line x1="51.34" y1="412.69" x2="57.46" y2="412.69" stroke="#6b4a20" stroke-width="1.2"/>
<line x1="51.34" y1="414.67" x2="57.46" y2="414.67" stroke="#6b4a20" stroke-width="1.2"/>
<circle cx="63.70" cy="405.62" r="1.4" fill="#f09c22"/>
<circle cx="69.51" cy="408.09" r="1.4" fill="#f09c22"/>
<circle cx="66.22" cy="411.38" r="1.4" fill="#f09c22"/>
<line x1="67.80" y1="405.62" x2="67.80" y2="412.20" stroke="#f09c22" stroke-width="1.3"/>
<line x1="64.74" y1="405.62" x2="70.86" y2="405.62" stroke="#f09c22" stroke-width="1.2"/>
<line x1="64.74" y1="412.20" x2="70.86" y2="412.20" stroke="#f09c22" stroke-width="1.2"/>
<circle cx="78.90" cy="370.25" r="1.4" fill="#1c3a80"/>
<circle cx="82.37" cy="386.70" r="1.4" fill="#1c3a80"/>
<circle cx="80.30" cy="391.63" r="1.4" fill="#1c3a80"/>
<circle cx="77.02" cy="393.28" r="1.4" fill="#1c3a80"/>
<circle cx="81.90" cy="396.57" r="1.4" fill="#1c3a80"/>
<circle cx="78.32" cy="399.86" r="1.4" fill="#1c3a80"/>
<circle cx="83.14" cy="404.80" r="1.4" fill="#1c3a80"/>
<line x1="81.30" y1="380.94" x2="81.30" y2="403.97" stroke="#1c3a80" stroke-width="1.3"/>
<line x1="78.24" y1="380.94" x2="84.36" y2="380.94" stroke="#1c3a80" stroke-width="1.2"/>
<line x1="78.24" y1="403.97" x2="84.36" y2="403.97" stroke="#1c3a80" stroke-width="1.2"/>
<line x1="32.90" y1="351.20" x2="32.90" y2="420.30" stroke="#231f20" stroke-width="1.4"/>
<line x1="29.50" y1="419.60" x2="89.60" y2="419.60" stroke="#231f20" stroke-width="1.4"/>
<line x1="29.50" y1="419.60" x2="32.90" y2="419.60" stroke="#231f20" stroke-width="1.1"/>
<text x="0.00" y="0.00" font-size="6.4" text-anchor="end" font-weight="normal" font-style="normal" fill="#231f20" transform="translate(27.20 421.90) scale(0.9 1)">0</text>
<line x1="29.50" y1="403.15" x2="32.90" y2="403.15" stroke="#231f20" stroke-width="1.1"/>
<text x="0.00" y="0.00" font-size="6.4" text-anchor="end" font-weight="normal" font-style="normal" fill="#231f20" transform="translate(27.20 405.45) scale(0.9 1)">10</text>
<line x1="29.50" y1="386.70" x2="32.90" y2="386.70" stroke="#231f20" stroke-width="1.1"/>
<text x="0.00" y="0.00" font-size="6.4" text-anchor="end" font-weight="normal" font-style="normal" fill="#231f20" transform="translate(27.20 389.00) scale(0.9 1)">20</text>
<line x1="29.50" y1="370.25" x2="32.90" y2="370.25" stroke="#231f20" stroke-width="1.1"/>
<text x="0.00" y="0.00" font-size="6.4" text-anchor="end" font-weight="normal" font-style="normal" fill="#231f20" transform="translate(27.20 372.55) scale(0.9 1)">30</text>
<line x1="29.50" y1="353.80" x2="32.90" y2="353.80" stroke="#231f20" stroke-width="1.1"/>
<text x="0.00" y="0.00" font-size="6.4" text-anchor="end" font-weight="normal" font-style="normal" fill="#231f20" transform="translate(27.20 356.10) scale(0.9 1)">40</text>
<line x1="40.60" y1="419.60" x2="40.60" y2="422.00" stroke="#231f20" stroke-width="1.0"/>
<line x1="54.40" y1="419.60" x2="54.40" y2="422.00" stroke="#231f20" stroke-width="1.0"/>
<line x1="67.80" y1="419.60" x2="67.80" y2="422.00" stroke="#231f20" stroke-width="1.0"/>
<line x1="81.30" y1="419.60" x2="81.30" y2="422.00" stroke="#231f20" stroke-width="1.0"/>
<text x="60.90" y="346.60" font-size="6.4" text-anchor="middle" font-weight="normal" font-style="normal" fill="#231f20">pro-B</text>
<text transform="translate(14.20 385.40) rotate(-90) scale(0.715 1)" font-size="9.0" text-anchor="middle" fill="#231f20">Annexin-V (%)</text>
<line x1="41.70" y1="384.50" x2="67.30" y2="384.50" stroke="#2b2b2b" stroke-width="1.2"/>
<line x1="41.70" y1="383.20" x2="41.70" y2="385.80" stroke="#2b2b2b" stroke-width="1.2"/>
<line x1="67.30" y1="383.20" x2="67.30" y2="385.80" stroke="#2b2b2b" stroke-width="1.2"/>
<text x="54.50" y="382.80" font-size="5.2" text-anchor="middle" font-weight="normal" font-style="normal" fill="#2b2b2b">ns</text>
<line x1="69.50" y1="364.20" x2="81.90" y2="364.20" stroke="#2b2b2b" stroke-width="1.2"/>
<line x1="69.50" y1="362.90" x2="69.50" y2="365.50" stroke="#2b2b2b" stroke-width="1.2"/>
<line x1="81.90" y1="362.90" x2="81.90" y2="365.50" stroke="#2b2b2b" stroke-width="1.2"/>
<text x="75.70" y="364.70" font-size="5.4" text-anchor="middle" font-weight="normal" font-style="normal" fill="#2b2b2b">*</text>
<rect x="127.90" y="406.77" width="10.20" height="12.83" fill="#dfa39b" fill-opacity="1"/>
<rect x="141.70" y="409.57" width="10.20" height="10.03" fill="#b1a184" fill-opacity="1"/>
<rect x="155.40" y="402.66" width="10.20" height="16.94" fill="#f8d6a6" fill-opacity="1"/>
<rect x="169.20" y="384.73" width="10.20" height="34.87" fill="#a9afd6" fill-opacity="1"/>
<path d="M129.42 393.11L130.96 394.93L129.42 396.75L127.88 394.93Z" fill="#b3143c"/>
<path d="M134.38 399.69L135.92 401.50L134.38 403.32L132.84 401.50Z" fill="#b3143c"/>
<path d="M131.76 401.33L133.30 403.15L131.76 404.97L130.22 403.15Z" fill="#b3143c"/>
<path d="M129.12 402.98L130.66 404.80L129.12 406.62L127.58 404.80Z" fill="#b3143c"/>
<path d="M133.66 404.62L135.20 406.44L133.66 408.26L132.12 406.44Z" fill="#b3143c"/>
<path d="M131.56 406.27L133.10 408.09L131.56 409.91L130.02 408.09Z" fill="#b3143c"/>
<path d="M135.14 407.91L136.68 409.73L135.14 411.55L133.60 409.73Z" fill="#b3143c"/>
<path d="M132.09 409.56L133.63 411.38L132.09 413.19L130.55 411.38Z" fill="#b3143c"/>
<path d="M129.28 412.85L130.82 414.67L129.28 416.49L127.74 414.67Z" fill="#b3143c"/>
<path d="M135.66 414.49L137.20 416.31L135.66 418.13L134.12 416.31Z" fill="#b3143c"/>
<line x1="133.00" y1="399.86" x2="133.00" y2="411.38" stroke="#b3143c" stroke-width="1.3"/>
<line x1="129.94" y1="399.86" x2="136.06" y2="399.86" stroke="#b3143c" stroke-width="1.2"/>
<line x1="129.94" y1="411.38" x2="136.06" y2="411.38" stroke="#b3143c" stroke-width="1.2"/>
<path d="M144.23 406.41L145.77 409.21L142.69 409.21Z" fill="#6b4a20"/>
<path d="M149.76 407.23L151.30 410.03L148.22 410.03Z" fill="#6b4a20"/>
<path d="M144.90 408.05L146.44 410.85L143.36 410.85Z" fill="#6b4a20"/>
<line x1="146.80" y1="408.09" x2="146.80" y2="410.55" stroke="#6b4a20" stroke-width="1.3"/>
<line x1="143.74" y1="408.09" x2="149.86" y2="408.09" stroke="#6b4a20" stroke-width="1.2"/>
<line x1="143.74" y1="410.55" x2="149.86" y2="410.55" stroke="#6b4a20" stroke-width="1.2"/>
<circle cx="156.46" cy="398.22" r="1.4" fill="#f09c22"/>
<circle cx="162.41" cy="403.15" r="1.4" fill="#f09c22"/>
<circle cx="158.70" cy="405.62" r="1.4" fill="#f09c22"/>
<line x1="160.50" y1="398.22" x2="160.50" y2="405.62" stroke="#f09c22" stroke-width="1.3"/>
<line x1="157.44" y1="398.22" x2="163.56" y2="398.22" stroke="#f09c22" stroke-width="1.2"/>
<line x1="157.44" y1="405.62" x2="163.56" y2="405.62" stroke="#f09c22" stroke-width="1.2"/>
<circle cx="171.40" cy="364.49" r="1.4" fill="#1c3a80"/>
<circle cx="175.68" cy="383.41" r="1.4" fill="#1c3a80"/>
<circle cx="174.15" cy="385.06" r="1.4" fill="#1c3a80"/>
<circle cx="177.54" cy="386.70" r="1.4" fill="#1c3a80"/>
<circle cx="175.36" cy="393.28" r="1.4" fill="#1c3a80"/>
<circle cx="172.45" cy="394.93" r="1.4" fill="#1c3a80"/>
<circle cx="178.04" cy="394.93" r="1.4" fill="#1c3a80"/>
<line x1="174.30" y1="371.90" x2="174.30" y2="394.93" stroke="#1c3a80" stroke-width="1.3"/>
<line x1="171.24" y1="371.90" x2="177.36" y2="371.90" stroke="#1c3a80" stroke-width="1.2"/>
<line x1="171.24" y1="394.93" x2="177.36" y2="394.93" stroke="#1c3a80" stroke-width="1.2"/>
<line x1="124.30" y1="351.20" x2="124.30" y2="420.30" stroke="#231f20" stroke-width="1.4"/>
<line x1="120.90" y1="419.60" x2="182.70" y2="419.60" stroke="#231f20" stroke-width="1.4"/>
<line x1="120.90" y1="419.60" x2="124.30" y2="419.60" stroke="#231f20" stroke-width="1.1"/>
<text x="0.00" y="0.00" font-size="6.4" text-anchor="end" font-weight="normal" font-style="normal" fill="#231f20" transform="translate(118.60 421.90) scale(0.9 1)">0</text>
<line x1="120.90" y1="403.15" x2="124.30" y2="403.15" stroke="#231f20" stroke-width="1.1"/>
<text x="0.00" y="0.00" font-size="6.4" text-anchor="end" font-weight="normal" font-style="normal" fill="#231f20" transform="translate(118.60 405.45) scale(0.9 1)">10</text>
<line x1="120.90" y1="386.70" x2="124.30" y2="386.70" stroke="#231f20" stroke-width="1.1"/>
<text x="0.00" y="0.00" font-size="6.4" text-anchor="end" font-weight="normal" font-style="normal" fill="#231f20" transform="translate(118.60 389.00) scale(0.9 1)">20</text>
<line x1="120.90" y1="370.25" x2="124.30" y2="370.25" stroke="#231f20" stroke-width="1.1"/>
<text x="0.00" y="0.00" font-size="6.4" text-anchor="end" font-weight="normal" font-style="normal" fill="#231f20" transform="translate(118.60 372.55) scale(0.9 1)">30</text>
<line x1="120.90" y1="353.80" x2="124.30" y2="353.80" stroke="#231f20" stroke-width="1.1"/>
<text x="0.00" y="0.00" font-size="6.4" text-anchor="end" font-weight="normal" font-style="normal" fill="#231f20" transform="translate(118.60 356.10) scale(0.9 1)">40</text>
<line x1="133.00" y1="419.60" x2="133.00" y2="422.00" stroke="#231f20" stroke-width="1.0"/>
<line x1="146.80" y1="419.60" x2="146.80" y2="422.00" stroke="#231f20" stroke-width="1.0"/>
<line x1="160.50" y1="419.60" x2="160.50" y2="422.00" stroke="#231f20" stroke-width="1.0"/>
<line x1="174.30" y1="419.60" x2="174.30" y2="422.00" stroke="#231f20" stroke-width="1.0"/>
<text x="153.90" y="346.60" font-size="6.4" text-anchor="middle" font-weight="normal" font-style="normal" fill="#231f20">pre-B</text>
<text transform="translate(106.00 385.70) rotate(-90) scale(0.715 1)" font-size="9.0" text-anchor="middle" fill="#231f20">Annexin-V (%)</text>
<line x1="133.40" y1="384.50" x2="159.90" y2="384.50" stroke="#2b2b2b" stroke-width="1.2"/>
<line x1="133.40" y1="383.20" x2="133.40" y2="385.80" stroke="#2b2b2b" stroke-width="1.2"/>
<line x1="159.90" y1="383.20" x2="159.90" y2="385.80" stroke="#2b2b2b" stroke-width="1.2"/>
<text x="146.65" y="382.80" font-size="5.2" text-anchor="middle" font-weight="normal" font-style="normal" fill="#2b2b2b">ns</text>
<line x1="161.70" y1="359.60" x2="174.90" y2="359.60" stroke="#2b2b2b" stroke-width="1.2"/>
<line x1="161.70" y1="358.30" x2="161.70" y2="360.90" stroke="#2b2b2b" stroke-width="1.2"/>
<line x1="174.90" y1="358.30" x2="174.90" y2="360.90" stroke="#2b2b2b" stroke-width="1.2"/>
<text x="168.30" y="360.10" font-size="5.4" text-anchor="middle" font-weight="normal" font-style="normal" fill="#2b2b2b">*</text>
<rect x="48.70" y="435.20" width="10.90" height="5.80" fill="#dfa39b"/>
<text x="0.00" y="0.00" font-size="6.0" text-anchor="start" font-weight="normal" font-style="normal" fill="#231f20" transform="translate(62.20 440.10) scale(0.92 1)">Eμ-<tspan font-style="italic">Myc</tspan> (<tspan font-style="italic">n</tspan>=10)</text>
<rect x="106.30" y="435.20" width="10.90" height="5.80" fill="#b1a184"/>
<text x="0.00" y="0.00" font-size="6.0" text-anchor="start" font-weight="normal" font-style="normal" fill="#231f20" transform="translate(119.80 440.10) scale(0.92 1)"><tspan font-style="italic">Bim</tspan><tspan baseline-shift="2.27" font-size="3.35">−/−</tspan> Eμ-<tspan font-style="italic">Myc</tspan> (<tspan font-style="italic">n</tspan>=2)</text>
<rect x="48.70" y="446.70" width="10.90" height="5.80" fill="#f8d6a6"/>
<text x="0.00" y="0.00" font-size="6.0" text-anchor="start" font-weight="normal" font-style="normal" fill="#231f20" transform="translate(62.20 451.60) scale(0.92 1)"><tspan font-style="italic">Bim</tspan><tspan baseline-shift="2.27" font-size="3.35">−/−</tspan> <tspan font-style="italic">Mnt</tspan><tspan baseline-shift="2.27" font-size="3.35">fl/fl</tspan> Eμ-<tspan font-style="italic">Myc/Rag1Cre</tspan> (<tspan font-style="italic">n</tspan>=3)</text>
<rect x="48.70" y="458.30" width="10.90" height="5.80" fill="#a9afd6"/>
<text x="0.00" y="0.00" font-size="6.0" text-anchor="start" font-weight="normal" font-style="normal" fill="#231f20" transform="translate(62.20 463.20) scale(0.92 1)"><tspan font-style="italic">Mnt</tspan><tspan baseline-shift="2.27" font-size="3.35">fl/fl</tspan> Eμ-<tspan font-style="italic">Myc/Rag1Cre</tspan> (<tspan font-style="italic">n</tspan>=7)</text>
<text x="198.20" y="311.20" font-size="11" text-anchor="start" font-weight="bold" font-style="normal" fill="#000">G</text>
<line x1="227.60" y1="323.60" x2="227.60" y2="437.20" stroke="#231f20" stroke-width="1.2"/>
<line x1="227.00" y1="437.20" x2="440.50" y2="437.20" stroke="#231f20" stroke-width="1.3"/>
<line x1="224.60" y1="437.20" x2="227.60" y2="437.20" stroke="#231f20" stroke-width="0.9"/>
<line x1="225.80" y1="426.13" x2="227.60" y2="426.13" stroke="#231f20" stroke-width="0.9"/>
<line x1="225.80" y1="415.06" x2="227.60" y2="415.06" stroke="#231f20" stroke-width="0.9"/>
<line x1="225.80" y1="403.99" x2="227.60" y2="403.99" stroke="#231f20" stroke-width="0.9"/>
<line x1="225.80" y1="392.92" x2="227.60" y2="392.92" stroke="#231f20" stroke-width="0.9"/>
<line x1="224.60" y1="381.85" x2="227.60" y2="381.85" stroke="#231f20" stroke-width="0.9"/>
<line x1="225.80" y1="370.78" x2="227.60" y2="370.78" stroke="#231f20" stroke-width="0.9"/>
<line x1="225.80" y1="359.71" x2="227.60" y2="359.71" stroke="#231f20" stroke-width="0.9"/>
<line x1="225.80" y1="348.64" x2="227.60" y2="348.64" stroke="#231f20" stroke-width="0.9"/>
<line x1="225.80" y1="337.57" x2="227.60" y2="337.57" stroke="#231f20" stroke-width="0.9"/>
<line x1="224.60" y1="326.50" x2="227.60" y2="326.50" stroke="#231f20" stroke-width="0.9"/>
<line x1="227.60" y1="437.20" x2="227.60" y2="439.80" stroke="#231f20" stroke-width="1.0"/>
<line x1="280.25" y1="437.20" x2="280.25" y2="439.80" stroke="#231f20" stroke-width="1.0"/>
<line x1="332.90" y1="437.20" x2="332.90" y2="439.80" stroke="#231f20" stroke-width="1.0"/>
<line x1="385.55" y1="437.20" x2="385.55" y2="439.80" stroke="#231f20" stroke-width="1.0"/>
<line x1="438.20" y1="437.20" x2="438.20" y2="439.80" stroke="#231f20" stroke-width="1.0"/>
<text transform="translate(227.60 449.00) scale(0.9 1)" font-size="6.4" text-anchor="middle" fill="#231f20">0</text>
<text transform="translate(280.25 449.00) scale(0.9 1)" font-size="6.4" text-anchor="middle" fill="#231f20">100</text>
<text transform="translate(332.90 449.00) scale(0.9 1)" font-size="6.4" text-anchor="middle" fill="#231f20">200</text>
<text transform="translate(385.55 449.00) scale(0.9 1)" font-size="6.4" text-anchor="middle" fill="#231f20">300</text>
<text transform="translate(438.20 449.00) scale(0.9 1)" font-size="6.4" text-anchor="middle" fill="#231f20">400</text>
<text transform="translate(221.60 328.80) scale(0.92 1)" font-size="7.0" text-anchor="end" fill="#231f20">100</text>
<text transform="translate(221.60 384.15) scale(0.92 1)" font-size="7.0" text-anchor="end" fill="#231f20">50</text>
<text transform="translate(221.60 439.50) scale(0.92 1)" font-size="7.0" text-anchor="end" fill="#231f20">0</text>
<text transform="translate(334.30 460.60) scale(0.86 1)" font-size="7.2" text-anchor="middle" fill="#231f20">Days</text>
<text transform="translate(206.20 381.90) rotate(-90) scale(0.816 1)" font-size="8.2" text-anchor="middle" fill="#231f20">Mouse survival (%)</text>
<path d="M227.60 326.50H255.00V327.20H264.20V329.20H266.50V331.00H267.70V333.80H269.50V337.00H271.10V340.80H273.40V346.50H275.00V350.00H276.90V353.40H279.20V359.20H281.00V362.00H282.70V366.10H284.40V370.00H286.00V373.10H290.00V374.50H293.50V375.30H297.90V376.50H299.00V379.00H303.00V381.80H305.20V384.50H313.50V387.90H344.40V391.20H361.90V394.70H437.90V399.80H437.90" fill="none" stroke="#b1c592" stroke-width="1.25" stroke-linejoin="miter"/>
<path d="M227.60 326.50H252.30V330.40H266.30V336.70H269.40V340.80H278.60V344.20H281.80V348.50H285.50V351.80H290.90V353.00H294.50V357.60H303.50V362.00H417.10V370.40H437.30" fill="none" stroke="#2f5197" stroke-width="1.25" stroke-linejoin="miter"/>
<path d="M227.60 326.50H257.30V328.70H258.30V333.80H262.50V340.00H263.30V350.30H270.60V359.20H273.40V369.50H283.80V379.00H293.50V390.50H355.20" fill="none" stroke="#f0941d" stroke-width="1.25" stroke-linejoin="miter"/>
<path d="M227.60 326.50H245.20V329.20H246.90V332.70H248.60V338.50H252.70V350.60H256.10V354.60H257.50V360.00H258.50V366.00H259.30V372.00H260.00V380.00H260.80V386.20H262.30V393.50H263.70V400.70H265.20V408.00H266.00V411.60H266.60V414.50H267.40V418.20H406.40" fill="none" stroke="#b5692a" stroke-width="1.25" stroke-linejoin="miter"/>
<path d="M227.60 326.50H249.20V328.70H250.60V331.00H252.00V336.00H253.50V342.00H255.00V348.00H256.50V354.00H257.90V360.00H258.60V366.00H259.40V377.50H260.10V396.40H260.80V409.50H264.50V410.30H265.90V416.70H266.60V421.00H271.00V421.00H271.70V429.80H273.90V431.30H275.40V437.20H275.40" fill="none" stroke="#f4c125" stroke-width="1.25" stroke-linejoin="miter"/>
<path d="M227.60 326.50H252.30V337.30H259.00V340.20H261.30V343.10H264.20V350.00H266.00V359.20H268.80V362.70H271.10V370.20H274.60V373.60H276.30V380.40H279.00V389.10H281.20V392.70H284.10V397.80H290.30V406.50H293.50V409.50H310.30V414.90H316.70V418.10H319.40V420.00H322.90V422.90H337.70V426.20H345.20V428.90H434.60V431.50H437.30" fill="none" stroke="#4b1a73" stroke-width="1.25" stroke-linejoin="miter"/>
<line x1="328.30" y1="360.70" x2="328.30" y2="362.60" stroke="#231f20" stroke-width="0.7"/>
<line x1="337.70" y1="360.70" x2="337.70" y2="362.60" stroke="#231f20" stroke-width="0.7"/>
<line x1="339.20" y1="360.70" x2="339.20" y2="362.60" stroke="#231f20" stroke-width="0.7"/>
<line x1="344.40" y1="360.70" x2="344.40" y2="362.60" stroke="#231f20" stroke-width="0.7"/>
<line x1="355.20" y1="360.70" x2="355.20" y2="362.60" stroke="#231f20" stroke-width="0.7"/>
<line x1="382.10" y1="360.70" x2="382.10" y2="362.60" stroke="#231f20" stroke-width="0.7"/>
<line x1="405.80" y1="360.70" x2="405.80" y2="362.60" stroke="#231f20" stroke-width="0.7"/>
<line x1="409.00" y1="360.70" x2="409.00" y2="362.60" stroke="#231f20" stroke-width="0.7"/>
<line x1="390.20" y1="393.40" x2="390.20" y2="395.30" stroke="#231f20" stroke-width="0.7"/>
<line x1="406.40" y1="393.40" x2="406.40" y2="395.30" stroke="#231f20" stroke-width="0.7"/>
<line x1="410.40" y1="393.40" x2="410.40" y2="395.30" stroke="#231f20" stroke-width="0.7"/>
<line x1="428.70" y1="393.40" x2="428.70" y2="395.30" stroke="#231f20" stroke-width="0.7"/>
<line x1="343.00" y1="386.60" x2="343.00" y2="388.50" stroke="#231f20" stroke-width="0.7"/>
<line x1="300.00" y1="389.20" x2="300.00" y2="391.10" stroke="#231f20" stroke-width="0.7"/>
<line x1="327.00" y1="389.20" x2="327.00" y2="391.10" stroke="#231f20" stroke-width="0.7"/>
<line x1="343.10" y1="389.20" x2="343.10" y2="391.10" stroke="#231f20" stroke-width="0.7"/>
<line x1="355.20" y1="389.20" x2="355.20" y2="391.10" stroke="#231f20" stroke-width="0.7"/>
<line x1="406.40" y1="416.90" x2="406.40" y2="418.80" stroke="#231f20" stroke-width="0.7"/>
<line x1="242.30" y1="324.90" x2="242.30" y2="326.80" stroke="#231f20" stroke-width="0.7"/>
<line x1="252.30" y1="324.90" x2="252.30" y2="326.80" stroke="#231f20" stroke-width="0.7"/>
<line x1="270.80" y1="416.90" x2="270.80" y2="418.80" stroke="#231f20" stroke-width="0.7"/>
<line x1="273.30" y1="416.90" x2="273.30" y2="418.80" stroke="#231f20" stroke-width="0.7"/>
<line x1="270.80" y1="335.30" x2="270.80" y2="337.20" stroke="#231f20" stroke-width="0.7"/>
<line x1="279.60" y1="358.90" x2="279.60" y2="360.80" stroke="#231f20" stroke-width="0.7"/>
<line x1="268.70" y1="348.50" x2="268.70" y2="350.40" stroke="#231f20" stroke-width="0.7"/>
<line x1="260.00" y1="395.10" x2="260.00" y2="397.00" stroke="#231f20" stroke-width="0.7"/>
<line x1="278.00" y1="476.90" x2="288.40" y2="476.90" stroke="#2f5197" stroke-width="1.5"/>
<text x="0.00" y="0.00" font-size="6.2" text-anchor="start" font-weight="normal" font-style="normal" fill="#231f20" transform="translate(291.60 478.90) scale(0.87 1)"><tspan font-style="italic">Mnt</tspan><tspan baseline-shift="2.27" font-size="3.35">fl/fl</tspan> Eμ-<tspan font-style="italic">Myc/Rag1Cre</tspan> (<tspan font-style="italic">n</tspan>=34)</text>
<line x1="278.00" y1="489.50" x2="288.40" y2="489.50" stroke="#f0941d" stroke-width="1.5"/>
<text x="0.00" y="0.00" font-size="6.2" text-anchor="start" font-weight="normal" font-style="normal" fill="#231f20" transform="translate(291.60 491.50) scale(0.87 1)"><tspan font-style="italic">Bim</tspan><tspan baseline-shift="2.27" font-size="3.35">−/−</tspan> <tspan font-style="italic">Mnt</tspan><tspan baseline-shift="2.27" font-size="3.35">fl/fl</tspan> Eμ-<tspan font-style="italic">Myc/Rag1Cre</tspan> (<tspan font-style="italic">n</tspan>=14)</text>
<line x1="278.00" y1="502.10" x2="288.40" y2="502.10" stroke="#b1c592" stroke-width="1.5"/>
<text x="0.00" y="0.00" font-size="6.2" text-anchor="start" font-weight="normal" font-style="normal" fill="#231f20" transform="translate(291.60 504.10) scale(0.87 1)"><tspan font-style="italic">Mnt</tspan><tspan baseline-shift="2.27" font-size="3.35">fl/+</tspan> Eμ-<tspan font-style="italic">Myc/Rag1Cre</tspan> (<tspan font-style="italic">n</tspan>=49)</text>
<line x1="278.00" y1="514.70" x2="288.40" y2="514.70" stroke="#b5692a" stroke-width="1.5"/>
<text x="0.00" y="0.00" font-size="6.2" text-anchor="start" font-weight="normal" font-style="normal" fill="#231f20" transform="translate(291.60 516.70) scale(0.87 1)"><tspan font-style="italic">Bim</tspan><tspan baseline-shift="2.27" font-size="3.35">−/−</tspan> <tspan font-style="italic">Mnt</tspan><tspan baseline-shift="2.27" font-size="3.35">fl/+</tspan> Eμ-<tspan font-style="italic">Myc/Rag1Cre</tspan> (<tspan font-style="italic">n</tspan>=19)</text>
<line x1="278.00" y1="527.30" x2="288.40" y2="527.30" stroke="#4b1a73" stroke-width="1.5"/>
<text x="0.00" y="0.00" font-size="6.2" text-anchor="start" font-weight="normal" font-style="normal" fill="#231f20" transform="translate(291.60 529.30) scale(0.87 1)"><tspan font-style="italic">Mnt</tspan><tspan baseline-shift="2.27" font-size="3.35">+/+</tspan> Eμ-<tspan font-style="italic">Myc/Rag1Cre</tspan> (<tspan font-style="italic">n</tspan>=41)</text>
<line x1="278.00" y1="539.90" x2="288.40" y2="539.90" stroke="#f4c125" stroke-width="1.5"/>
<text x="0.00" y="0.00" font-size="6.2" text-anchor="start" font-weight="normal" font-style="normal" fill="#231f20" transform="translate(291.60 541.90) scale(0.87 1)"><tspan font-style="italic">Bim</tspan><tspan baseline-shift="2.27" font-size="3.35">−/−</tspan> <tspan font-style="italic">Mnt</tspan><tspan baseline-shift="2.27" font-size="3.35">+/+</tspan> Eμ-<tspan font-style="italic">Myc</tspan> (<tspan font-style="italic">n</tspan>=31)</text>
<path d="M383.6 472.20H386.2V493.00H383.6" fill="none" stroke="#231f20" stroke-width="0.9"/>
<text x="386.4" y="482.60" font-size="4.6" text-anchor="middle" fill="#231f20" transform="rotate(90 386.4 482.60)">*</text>
<path d="M383.6 497.30H386.2V517.50H383.6" fill="none" stroke="#231f20" stroke-width="0.9"/>
<text x="386.4" y="507.40" font-size="4.6" text-anchor="middle" fill="#231f20" transform="rotate(90 386.4 507.40)">****</text>
<path d="M383.6 522.70H386.2V542.90H383.6" fill="none" stroke="#231f20" stroke-width="0.9"/>
<text x="386.4" y="532.80" font-size="4.6" text-anchor="middle" fill="#231f20" transform="rotate(90 386.4 532.80)">****</text></svg>
</body></html>
